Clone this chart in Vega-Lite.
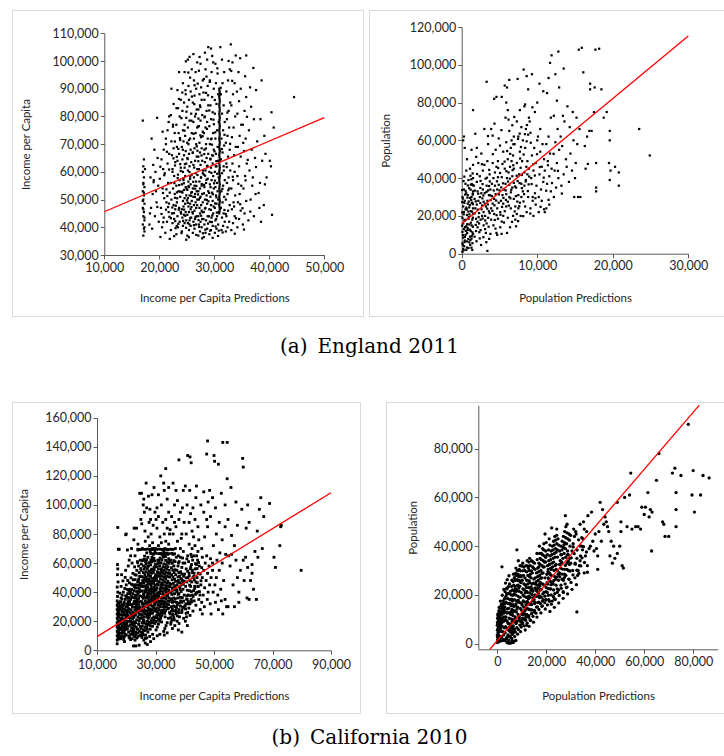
{
"$schema":"https://vega.github.io/schema/vega-lite/v6.json",
"background":"white",
"padding":{"left":11,"top":9,"right":0,"bottom":0},
"spacing":44,
"config":{
"view":{"stroke":"#d9d9d9","strokeWidth":1},
"axis":{"grid":false,"domainColor":"#595959","tickColor":"#595959","tickSize":4,"labelFont":"Lato","labelFontSize":12.5,"labelColor":"#262626","titleFont":"Lato","titleFontSize":11.4,"titleFontWeight":"normal","titleColor":"#262626","labelPadding":2,"labelFlush":false,"labelOverlap":false,"format":",d"}
},
"datasets":{
"tl":[{"x":17100,"y":37000},{"x":17200,"y":39500},{"x":17000,"y":41000},{"x":17300,"y":42500},{"x":17100,"y":44000},{"x":17200,"y":45500},{"x":17000,"y":47000},{"x":17300,"y":48500},{"x":17100,"y":50000},{"x":17200,"y":51500},{"x":17000,"y":53000},{"x":17300,"y":54500},{"x":17100,"y":56000},{"x":17200,"y":58000},{"x":17000,"y":60000},{"x":17100,"y":62000},{"x":17200,"y":64500},{"x":17000,"y":78500},{"x":17300,"y":40000},{"x":17100,"y":46500},{"x":17200,"y":52500},{"x":17300,"y":43500},{"x":17000,"y":49500},{"x":17100,"y":55500},{"x":17400,"y":61000},{"x":17300,"y":38500},
{"x":18200,"y":41000},{"x":18500,"y":47000},{"x":18800,"y":52000},{"x":18400,"y":58000},{"x":18900,"y":62500},{"x":18600,"y":72000},{"x":19200,"y":44000},{"x":19500,"y":49000},{"x":19800,"y":55000},{"x":19300,"y":60000},{"x":19700,"y":65000},{"x":19100,"y":68000},{"x":19600,"y":79500},{"x":18300,"y":45000},{"x":19900,"y":42000},{"x":19400,"y":53000},{"x":18700,"y":39500},{"x":19000,"y":57000},
{"x":20200,"y":36500},{"x":20500,"y":40000},{"x":20800,"y":43500},{"x":20300,"y":47000},{"x":20900,"y":50500},{"x":20600,"y":54000},{"x":20100,"y":57500},{"x":20700,"y":61000},{"x":20400,"y":64500},{"x":20800,"y":68000},{"x":21200,"y":72000},{"x":21500,"y":75000},{"x":21800,"y":80000},{"x":21100,"y":38000},{"x":21400,"y":42000},{"x":21700,"y":45500},{"x":21300,"y":49000},{"x":21900,"y":52500},{"x":21600,"y":56000},{"x":21000,"y":59500},{"x":21500,"y":63000},{"x":21800,"y":66500},{"x":21200,"y":70000},{"x":20600,"y":74500},{"x":21700,"y":78000},{"x":21900,"y":35800},{"x":20400,"y":44800},{"x":21300,"y":53700},{"x":20900,"y":58800},{"x":21600,"y":47300},
{"x":22100,"y":39000},{"x":22400,"y":41500},{"x":22700,"y":43000},{"x":22300,"y":45000},{"x":22900,"y":46500},{"x":22600,"y":48000},{"x":22200,"y":50000},{"x":22800,"y":52000},{"x":22500,"y":54000},{"x":22100,"y":56000},{"x":22700,"y":58500},{"x":22400,"y":61000},{"x":22900,"y":63500},{"x":22300,"y":66000},{"x":22600,"y":68500},{"x":22200,"y":71000},{"x":22800,"y":74000},{"x":22500,"y":77000},{"x":22100,"y":80500},{"x":22600,"y":84500},{"x":22200,"y":90000},{"x":23100,"y":37500},{"x":23400,"y":40000},{"x":23700,"y":42000},{"x":23300,"y":44000},{"x":23900,"y":45500},{"x":23600,"y":47000},{"x":23200,"y":49000},{"x":23800,"y":51000},{"x":23500,"y":53000},{"x":23100,"y":55000},{"x":23700,"y":57000},{"x":23400,"y":59000},{"x":23900,"y":61500},{"x":23300,"y":64000},{"x":23600,"y":66500},{"x":23200,"y":69000},{"x":23800,"y":71500},{"x":23500,"y":74000},{"x":23100,"y":77000},{"x":23700,"y":80000},{"x":23400,"y":83000},{"x":23900,"y":86000},{"x":23300,"y":89500},{"x":23600,"y":96000},{"x":22900,"y":42200},{"x":23000,"y":47800},{"x":23200,"y":52600},{"x":22700,"y":36800},{"x":23800,"y":62800},{"x":22400,"y":60000},
{"x":24100,"y":38500},{"x":24300,"y":40500},{"x":24600,"y":41500},{"x":24900,"y":42500},{"x":24200,"y":43500},{"x":24500,"y":44500},{"x":24800,"y":45500},{"x":24100,"y":46500},{"x":24400,"y":47500},{"x":24700,"y":48500},{"x":24300,"y":49500},{"x":24600,"y":50500},{"x":24900,"y":51500},{"x":24200,"y":52500},{"x":24500,"y":53500},{"x":24800,"y":54500},{"x":24100,"y":55500},{"x":24400,"y":57000},{"x":24700,"y":58500},{"x":24300,"y":60000},{"x":24600,"y":61500},{"x":24900,"y":63000},{"x":24200,"y":64500},{"x":24500,"y":66000},{"x":24800,"y":67500},{"x":24100,"y":69000},{"x":24400,"y":71000},{"x":24700,"y":73000},{"x":24300,"y":75000},{"x":24600,"y":77000},{"x":24900,"y":79500},{"x":24200,"y":82000},{"x":24500,"y":85000},{"x":24800,"y":88000},{"x":24300,"y":92000},{"x":24600,"y":96000},{"x":24900,"y":35500},
{"x":25100,"y":37000},{"x":25400,"y":39000},{"x":25700,"y":40500},{"x":25200,"y":41500},{"x":25500,"y":42500},{"x":25800,"y":43500},{"x":25100,"y":44500},{"x":25400,"y":45500},{"x":25700,"y":46500},{"x":25300,"y":47500},{"x":25600,"y":48500},{"x":25900,"y":49500},{"x":25200,"y":50500},{"x":25500,"y":51500},{"x":25800,"y":52500},{"x":25100,"y":53500},{"x":25400,"y":54500},{"x":25700,"y":55500},{"x":25300,"y":56500},{"x":25600,"y":57500},{"x":25900,"y":59000},{"x":25200,"y":60500},{"x":25500,"y":62000},{"x":25800,"y":63500},{"x":25100,"y":65000},{"x":25400,"y":66500},{"x":25700,"y":68000},{"x":25300,"y":70000},{"x":25600,"y":72000},{"x":25900,"y":74000},{"x":25200,"y":76000},{"x":25500,"y":78500},{"x":25800,"y":81000},{"x":25100,"y":83500},{"x":25400,"y":86000},{"x":25700,"y":89000},{"x":25300,"y":91000},{"x":25600,"y":94000},{"x":25900,"y":97000},{"x":25200,"y":100500},{"x":25500,"y":101500},
{"x":26100,"y":38000},{"x":26400,"y":39500},{"x":26700,"y":41000},{"x":26200,"y":42000},{"x":26500,"y":43000},{"x":26800,"y":44000},{"x":26100,"y":45000},{"x":26400,"y":46000},{"x":26700,"y":47000},{"x":26300,"y":48000},{"x":26600,"y":49000},{"x":26900,"y":50000},{"x":26200,"y":51000},{"x":26500,"y":52000},{"x":26800,"y":53000},{"x":26100,"y":54000},{"x":26400,"y":55000},{"x":26700,"y":56500},{"x":26300,"y":58000},{"x":26600,"y":59500},{"x":26900,"y":61000},{"x":26200,"y":62500},{"x":26500,"y":64000},{"x":26800,"y":65500},{"x":26100,"y":67000},{"x":26400,"y":68500},{"x":26700,"y":70000},{"x":26300,"y":72000},{"x":26600,"y":74000},{"x":26900,"y":76000},{"x":26200,"y":78000},{"x":26500,"y":80000},{"x":26800,"y":82500},{"x":26100,"y":85000},{"x":26400,"y":87500},{"x":26700,"y":90000},{"x":26300,"y":93000},{"x":26600,"y":96000},{"x":26900,"y":99500},{"x":26200,"y":102500},
{"x":27100,"y":37000},{"x":27400,"y":38500},{"x":27700,"y":40000},{"x":27200,"y":41000},{"x":27500,"y":42000},{"x":27800,"y":43000},{"x":27100,"y":44000},{"x":27400,"y":45000},{"x":27700,"y":46000},{"x":27300,"y":47000},{"x":27600,"y":48000},{"x":27900,"y":49000},{"x":27200,"y":50000},{"x":27500,"y":51000},{"x":27800,"y":52000},{"x":27100,"y":53000},{"x":27400,"y":54000},{"x":27700,"y":55000},{"x":27300,"y":56500},{"x":27600,"y":58000},{"x":27900,"y":59500},{"x":27200,"y":61000},{"x":27500,"y":62500},{"x":27800,"y":64000},{"x":27100,"y":65500},{"x":27400,"y":67000},{"x":27700,"y":68500},{"x":27300,"y":70500},{"x":27600,"y":72500},{"x":27900,"y":74500},{"x":27200,"y":76500},{"x":27500,"y":78500},{"x":27800,"y":80500},{"x":27100,"y":82500},{"x":27400,"y":84000},{"x":27700,"y":86000},{"x":27300,"y":88000},{"x":27600,"y":90500},{"x":27900,"y":93000},{"x":27200,"y":96500},{"x":27500,"y":99000},{"x":27800,"y":36000},
{"x":28100,"y":36500},{"x":28400,"y":38000},{"x":28700,"y":39500},{"x":28200,"y":41000},{"x":28500,"y":42500},{"x":28800,"y":44000},{"x":28100,"y":45500},{"x":28400,"y":47000},{"x":28700,"y":48500},{"x":28300,"y":50000},{"x":28600,"y":51500},{"x":28900,"y":53000},{"x":28200,"y":54500},{"x":28500,"y":56000},{"x":28800,"y":57500},{"x":28100,"y":59000},{"x":28400,"y":60500},{"x":28700,"y":62000},{"x":28300,"y":63500},{"x":28600,"y":65000},{"x":28900,"y":66500},{"x":28200,"y":68000},{"x":28500,"y":70000},{"x":28800,"y":72000},{"x":28100,"y":74000},{"x":28400,"y":76000},{"x":28700,"y":78000},{"x":28300,"y":80000},{"x":28600,"y":82000},{"x":28900,"y":84000},{"x":28200,"y":86000},{"x":28500,"y":88500},{"x":28800,"y":91000},{"x":28100,"y":93500},{"x":28400,"y":97000},{"x":28700,"y":100500},{"x":28300,"y":103000},{"x":28900,"y":105000},
{"x":29100,"y":37500},{"x":29400,"y":39000},{"x":29700,"y":40500},{"x":29200,"y":42000},{"x":29500,"y":43500},{"x":29800,"y":45000},{"x":29100,"y":46500},{"x":29400,"y":48000},{"x":29700,"y":49500},{"x":29300,"y":51000},{"x":29600,"y":52500},{"x":29900,"y":54000},{"x":29200,"y":55500},{"x":29500,"y":57000},{"x":29800,"y":58500},{"x":29100,"y":60000},{"x":29400,"y":61500},{"x":29700,"y":63000},{"x":29300,"y":64500},{"x":29600,"y":66000},{"x":29900,"y":68000},{"x":29200,"y":70000},{"x":29500,"y":72000},{"x":29800,"y":74000},{"x":29100,"y":76500},{"x":29400,"y":79000},{"x":29700,"y":81500},{"x":29300,"y":84000},{"x":29600,"y":87000},{"x":29900,"y":90000},{"x":29200,"y":93000},{"x":29500,"y":96000},{"x":29800,"y":99500},{"x":29400,"y":104500},{"x":29700,"y":36200},
{"x":30900,"y":45000},{"x":31000,"y":46500},{"x":30900,"y":48000},{"x":31000,"y":49500},{"x":30900,"y":51000},{"x":31000,"y":52500},{"x":30900,"y":54000},{"x":31000,"y":55500},{"x":30900,"y":57000},{"x":31000,"y":58500},{"x":30900,"y":60000},{"x":31000,"y":61500},{"x":30900,"y":63000},{"x":31000,"y":64500},{"x":30900,"y":66000},{"x":31000,"y":67500},{"x":30900,"y":69000},{"x":31000,"y":70500},{"x":30900,"y":72000},{"x":31000,"y":73500},{"x":30900,"y":75000},{"x":31000,"y":76500},{"x":30900,"y":78000},{"x":31000,"y":79500},{"x":30900,"y":81000},{"x":31000,"y":82500},{"x":30900,"y":84000},{"x":31000,"y":85500},{"x":30900,"y":87000},{"x":31000,"y":88500},{"x":30900,"y":90000},
{"x":30950,"y":45750},{"x":30950,"y":47250},{"x":30950,"y":48750},{"x":30950,"y":50250},{"x":30950,"y":51750},{"x":30950,"y":53250},{"x":30950,"y":54750},{"x":30950,"y":56250},{"x":30950,"y":57750},{"x":30950,"y":59250},{"x":30950,"y":60750},{"x":30950,"y":62250},{"x":30950,"y":63750},{"x":30950,"y":65250},{"x":30950,"y":66750},{"x":30950,"y":68250},{"x":30950,"y":69750},{"x":30950,"y":71250},{"x":30950,"y":72750},{"x":30950,"y":74250},{"x":30950,"y":75750},{"x":30950,"y":77250},{"x":30950,"y":78750},{"x":30950,"y":80250},{"x":30950,"y":81750},{"x":30950,"y":83250},{"x":30950,"y":84750},{"x":30950,"y":86250},{"x":30950,"y":87750},{"x":30950,"y":89250},
{"x":30100,"y":38000},{"x":30400,"y":39500},{"x":30700,"y":41000},{"x":30200,"y":42500},{"x":30500,"y":44000},{"x":30800,"y":45500},{"x":30100,"y":47000},{"x":30400,"y":48500},{"x":30700,"y":50000},{"x":30300,"y":51500},{"x":30600,"y":53000},{"x":30200,"y":54500},{"x":30500,"y":56000},{"x":30800,"y":58000},{"x":30100,"y":60000},{"x":30400,"y":62000},{"x":30700,"y":64000},{"x":30300,"y":66500},{"x":30600,"y":69000},{"x":30200,"y":72000},{"x":30500,"y":75000},{"x":30800,"y":78000},{"x":30100,"y":81000},{"x":30400,"y":84500},{"x":30700,"y":88000},{"x":30300,"y":92000},{"x":30600,"y":95500},{"x":30200,"y":99000},{"x":30800,"y":38800},
{"x":31300,"y":39000},{"x":31600,"y":40500},{"x":31900,"y":42000},{"x":31400,"y":43500},{"x":31700,"y":45000},{"x":31200,"y":47000},{"x":31500,"y":49000},{"x":31800,"y":51000},{"x":31300,"y":53000},{"x":31600,"y":55000},{"x":31900,"y":57000},{"x":31400,"y":59500},{"x":31700,"y":62000},{"x":31200,"y":64500},{"x":31500,"y":67000},{"x":31800,"y":69500},{"x":31300,"y":72000},{"x":31600,"y":75000},{"x":31900,"y":78000},{"x":31400,"y":81000},{"x":31700,"y":84000},{"x":31200,"y":88000},{"x":31500,"y":92000},{"x":31800,"y":96000},{"x":31100,"y":105000},{"x":31400,"y":100500},
{"x":32100,"y":38500},{"x":32400,"y":40000},{"x":32700,"y":42000},{"x":32200,"y":44000},{"x":32500,"y":46000},{"x":32800,"y":48000},{"x":32100,"y":50000},{"x":32400,"y":52000},{"x":32700,"y":54000},{"x":32300,"y":56000},{"x":32600,"y":58000},{"x":32900,"y":60500},{"x":32200,"y":63000},{"x":32500,"y":65500},{"x":32800,"y":68000},{"x":32100,"y":70500},{"x":32400,"y":73000},{"x":32700,"y":76000},{"x":32300,"y":79000},{"x":32600,"y":82000},{"x":32900,"y":85000},{"x":32200,"y":89000},{"x":32500,"y":93000},{"x":32800,"y":97000},{"x":33000,"y":106000},{"x":32600,"y":100000},
{"x":33100,"y":39000},{"x":33400,"y":41500},{"x":33700,"y":44000},{"x":33200,"y":46500},{"x":33500,"y":49000},{"x":33800,"y":51500},{"x":33100,"y":54000},{"x":33400,"y":57000},{"x":33700,"y":60000},{"x":33300,"y":63000},{"x":33600,"y":66000},{"x":33900,"y":69000},{"x":33200,"y":72500},{"x":33500,"y":76000},{"x":33800,"y":80000},{"x":33100,"y":84000},{"x":33400,"y":88000},{"x":33700,"y":92000},{"x":33300,"y":99500},{"x":33900,"y":102000},{"x":33600,"y":47500},
{"x":34200,"y":40000},{"x":34500,"y":43000},{"x":34800,"y":46000},{"x":34300,"y":49000},{"x":34600,"y":52000},{"x":34900,"y":55000},{"x":34200,"y":58500},{"x":34500,"y":62000},{"x":34800,"y":65500},{"x":34300,"y":69000},{"x":34600,"y":73000},{"x":34900,"y":77000},{"x":34200,"y":81000},{"x":34500,"y":85500},{"x":34800,"y":90000},{"x":34400,"y":96000},{"x":34700,"y":101000},{"x":35200,"y":41000},{"x":35500,"y":45000},{"x":35800,"y":49500},{"x":35300,"y":54000},{"x":35600,"y":58500},{"x":35900,"y":63000},{"x":35400,"y":67500},{"x":35700,"y":72000},{"x":35200,"y":77000},{"x":35500,"y":82000},{"x":35800,"y":87000},{"x":35600,"y":94500},{"x":35800,"y":102000},{"x":35400,"y":39200},
{"x":36200,"y":42500},{"x":36600,"y":50000},{"x":36900,"y":55000},{"x":36400,"y":60500},{"x":36800,"y":68000},{"x":36300,"y":75000},{"x":36700,"y":83500},{"x":36500,"y":90500},{"x":37200,"y":44000},{"x":37500,"y":52000},{"x":37000,"y":58000},{"x":37400,"y":65000},{"x":37800,"y":71000},{"x":37200,"y":79000},{"x":37100,"y":97500},{"x":37600,"y":89500},{"x":38200,"y":47000},{"x":38500,"y":42000},{"x":38300,"y":56000},{"x":38700,"y":64000},{"x":38400,"y":79000},{"x":38600,"y":93000},{"x":39000,"y":48000},{"x":39200,"y":55500},{"x":39300,"y":66500},{"x":39100,"y":73000},{"x":39500,"y":58000},{"x":40300,"y":62000},{"x":40500,"y":44500},{"x":40400,"y":81500},{"x":40800,"y":76000},{"x":40100,"y":64000},{"x":44500,"y":87000},
{"x":23450,"y":41230},{"x":24870,"y":39810},{"x":25630,"y":43370},{"x":26290,"y":40760},{"x":27140,"y":42590},{"x":28370,"y":39140},{"x":29560,"y":41880},{"x":30230,"y":40270},{"x":23980,"y":44910},{"x":24520,"y":46380},{"x":25190,"y":48820},{"x":26030,"y":45470},{"x":26880,"y":47960},{"x":27610,"y":44180},{"x":28290,"y":46730},{"x":29040,"y":43960},{"x":29880,"y":47510},{"x":30470,"y":45290},{"x":23260,"y":50470},{"x":24130,"y":52890},{"x":25040,"y":49720},{"x":25770,"y":51360},{"x":26520,"y":53940},{"x":27380,"y":50610},{"x":28110,"y":52270},{"x":28940,"y":49380},{"x":29730,"y":51940},{"x":30380,"y":50790},{"x":23620,"y":55230},{"x":24390,"y":57680},{"x":25310,"y":54890},{"x":26170,"y":56420},{"x":26940,"y":58870},{"x":27730,"y":55610},{"x":28560,"y":57130},{"x":29320,"y":54470},{"x":30120,"y":56840},{"x":23890,"y":60320},{"x":24660,"y":62780},{"x":25480,"y":59940},{"x":26340,"y":61560},{"x":27090,"y":63840},{"x":27960,"y":60470},{"x":28740,"y":62210},{"x":29470,"y":59630},{"x":30260,"y":61980},{"x":23180,"y":65430},{"x":24280,"y":67980},{"x":25160,"y":64620},{"x":26080,"y":66870},{"x":26810,"y":69210},{"x":27670,"y":65930},{"x":28480,"y":68440},{"x":29280,"y":64760},{"x":30040,"y":67390},{"x":22860,"y":62310},{"x":23750,"y":72180},{"x":24590,"y":74860},{"x":25390,"y":71470},{"x":26230,"y":73720},{"x":27040,"y":76340},{"x":27880,"y":72860},{"x":28660,"y":75510},{"x":29390,"y":71790},{"x":30170,"y":74260},{"x":24010,"y":79380},{"x":24940,"y":81720},{"x":25850,"y":78460},{"x":26650,"y":80930},{"x":27460,"y":83380},{"x":28210,"y":79670},{"x":29080,"y":82150},{"x":29840,"y":78840},{"x":23570,"y":86320},{"x":24760,"y":89460},{"x":25930,"y":87180},{"x":26980,"y":91840},{"x":28030,"y":88620},{"x":29170,"y":92470},{"x":30090,"y":85930},{"x":22370,"y":47160},{"x":22740,"y":55930},{"x":22580,"y":64870},{"x":21840,"y":43780},{"x":21460,"y":51270},{"x":21770,"y":60840},{"x":32080,"y":44790},{"x":32540,"y":53360},{"x":32260,"y":61740},{"x":32870,"y":70120},{"x":33360,"y":58230},{"x":33940,"y":43260},{"x":34370,"y":55680},{"x":34710,"y":48320},{"x":31520,"y":38140},{"x":33720,"y":37680},{"x":35120,"y":46870},{"x":35690,"y":56930},{"x":25380,"y":36410},{"x":26720,"y":37260},{"x":29260,"y":38770},{"x":24040,"y":37930},{"x":27930,"y":37840},{"x":30670,"y":36880},{"x":22960,"y":39670},{"x":31840,"y":46240},{"x":31470,"y":53860},{"x":31720,"y":60470},{"x":31380,"y":68230},{"x":31850,"y":73380},{"x":32380,"y":81420},{"x":31160,"y":90350},{"x":30560,"y":97360},{"x":33260,"y":92840},{"x":27320,"y":101460},{"x":28580,"y":94370},{"x":26410,"y":91260},{"x":25270,"y":95840},{"x":24180,"y":88620},{"x":23130,"y":82970},{"x":22480,"y":76320},{"x":21380,"y":67240},{"x":20680,"y":52370},{"x":20190,"y":61860},{"x":19640,"y":47330},{"x":18960,"y":56270},{"x":35260,"y":70480},{"x":36080,"y":64320},{"x":36540,"y":45670},{"x":37580,"y":61740},{"x":38060,"y":52380},{"x":35940,"y":79860},{"x":34120,"y":88970},{"x":33080,"y":96410},{"x":29620,"y":101830},{"x":24830,"y":99870},{"x":26370,"y":84430},{"x":28860,"y":87630},{"x":27120,"y":79220},{"x":29930,"y":77180},{"x":22840,"y":70960},
{"x":23160,"y":40460},{"x":24340,"y":42310},{"x":25470,"y":41070},{"x":26580,"y":43730},{"x":27260,"y":40140},{"x":28030,"y":42940},{"x":28860,"y":41320},{"x":29640,"y":44270},{"x":30340,"y":42960},{"x":23540,"y":46360},{"x":24720,"y":44160},{"x":25840,"y":47290},{"x":26470,"y":50930},{"x":27860,"y":45470},{"x":28640,"y":49870},{"x":29380,"y":46280},{"x":30160,"y":48620},{"x":23760,"y":52860},{"x":24960,"y":53960},{"x":25940,"y":52660},{"x":27040,"y":51860},{"x":28140,"y":55310},{"x":29060,"y":52380},{"x":29960,"y":55860},{"x":24460,"y":55860},{"x":26740,"y":54930},{"x":27570,"y":57930},{"x":23340,"y":57760},{"x":25620,"y":58340},{"x":28330,"y":58630},{"x":22640,"y":45120},{"x":22860,"y":50630},{"x":22120,"y":43260},{"x":21760,"y":48560},{"x":20720,"y":41820},{"x":21220,"y":46360},{"x":30530,"y":59320},{"x":30370,"y":63870},{"x":29780,"y":65840},{"x":23460,"y":68260},{"x":26930,"y":67640},{"x":28170,"y":66420},{"x":25080,"y":70530},{"x":27460,"y":73160},{"x":29570,"y":69820}],
"tr":[{"x":100,"y":1000},{"x":200,"y":2500},{"x":300,"y":4000},{"x":100,"y":5500},{"x":400,"y":7000},{"x":200,"y":8500},{"x":500,"y":10000},{"x":100,"y":11500},{"x":300,"y":13000},{"x":600,"y":14500},{"x":200,"y":16000},{"x":400,"y":17500},{"x":100,"y":19000},{"x":700,"y":20500},{"x":300,"y":22000},{"x":500,"y":23500},{"x":200,"y":25000},{"x":800,"y":26500},{"x":400,"y":28000},{"x":100,"y":30000},{"x":600,"y":32000},{"x":300,"y":34000},{"x":900,"y":3000},{"x":1000,"y":6000},{"x":1100,"y":9000},{"x":1200,"y":12000},{"x":1300,"y":15000},{"x":1400,"y":18000},{"x":1500,"y":21000},{"x":1500,"y":24000},{"x":1400,"y":27000},{"x":1300,"y":30000},{"x":1500,"y":33000},{"x":1200,"y":36500},{"x":1500,"y":40000},{"x":1450,"y":42500},{"x":800,"y":12500},{"x":900,"y":18500},{"x":700,"y":6500},{"x":1000,"y":24500},{"x":1100,"y":29500},{"x":600,"y":2000},{"x":1300,"y":8000},{"x":1000,"y":15500},{"x":500,"y":37000},{"x":300,"y":62000},{"x":200,"y":60000},{"x":400,"y":56000},{"x":700,"y":50000},{"x":1500,"y":76000},{"x":1300,"y":55000},{"x":1100,"y":45000},{"x":900,"y":39000},{"x":1500,"y":47000},{"x":1400,"y":2000},{"x":1500,"y":10500},{"x":1200,"y":22500},{"x":800,"y":31000},{"x":600,"y":44000},
{"x":1700,"y":9000},{"x":1900,"y":12000},{"x":2100,"y":14000},{"x":2300,"y":16000},{"x":2500,"y":18000},{"x":2700,"y":20000},{"x":2900,"y":22000},{"x":1800,"y":24000},{"x":2000,"y":26000},{"x":2200,"y":28000},{"x":2400,"y":30000},{"x":2600,"y":32000},{"x":2800,"y":34000},{"x":1600,"y":36000},{"x":2000,"y":38000},{"x":2400,"y":41000},{"x":2800,"y":44000},{"x":2200,"y":48000},{"x":2600,"y":53000},{"x":1900,"y":18500},{"x":2300,"y":21500},{"x":2700,"y":25500},{"x":2100,"y":33000},{"x":2500,"y":12500},{"x":2900,"y":27500},{"x":1700,"y":29000},{"x":2900,"y":15000},{"x":2500,"y":38500},{"x":3000,"y":47000},{"x":2000,"y":56000},{"x":1800,"y":63500},{"x":3300,"y":91000},{"x":3400,"y":1500},{"x":3200,"y":11000},{"x":3000,"y":66000},
{"x":3100,"y":13000},{"x":3300,"y":16000},{"x":3500,"y":19000},{"x":3700,"y":21500},{"x":3900,"y":24000},{"x":4100,"y":26500},{"x":4300,"y":29000},{"x":4500,"y":31500},{"x":4700,"y":34000},{"x":4900,"y":36500},{"x":3200,"y":25000},{"x":3400,"y":28000},{"x":3600,"y":31000},{"x":3800,"y":34000},{"x":4000,"y":37000},{"x":4200,"y":40000},{"x":4400,"y":43000},{"x":4600,"y":46000},{"x":4800,"y":49000},{"x":3300,"y":36000},{"x":3700,"y":42000},{"x":4100,"y":48000},{"x":4500,"y":55000},{"x":4900,"y":61000},{"x":3500,"y":58000},{"x":3900,"y":66000},{"x":4300,"y":82000},{"x":4600,"y":83000},{"x":3100,"y":20000},{"x":3500,"y":33500},{"x":3900,"y":18000},{"x":4300,"y":21000},{"x":4700,"y":24000},{"x":4900,"y":27000},{"x":4200,"y":15000},{"x":4600,"y":11000},{"x":4800,"y":18500},{"x":4000,"y":30500},{"x":3600,"y":22500},{"x":4400,"y":36000},{"x":3800,"y":10500},{"x":4800,"y":40500},{"x":4100,"y":62500},{"x":3400,"y":49000},{"x":4700,"y":10000},
{"x":5100,"y":14000},{"x":5300,"y":17000},{"x":5500,"y":20000},{"x":5700,"y":22500},{"x":5900,"y":25000},{"x":6100,"y":27500},{"x":6300,"y":30000},{"x":6500,"y":32500},{"x":6700,"y":35000},{"x":6900,"y":37500},{"x":5200,"y":28000},{"x":5400,"y":31000},{"x":5600,"y":34000},{"x":5800,"y":37000},{"x":6000,"y":40000},{"x":6200,"y":43000},{"x":6400,"y":46000},{"x":6600,"y":49000},{"x":6800,"y":52000},{"x":5300,"y":40500},{"x":5700,"y":45000},{"x":6100,"y":50000},{"x":6500,"y":56000},{"x":6900,"y":62000},{"x":5500,"y":54000},{"x":5900,"y":59000},{"x":6300,"y":65000},{"x":6700,"y":68000},{"x":5100,"y":22000},{"x":5500,"y":26500},{"x":5900,"y":31500},{"x":6300,"y":36500},{"x":6700,"y":41000},{"x":6900,"y":45000},{"x":6100,"y":19000},{"x":6500,"y":24000},{"x":6900,"y":29000},{"x":5400,"y":47500},{"x":5800,"y":72000},{"x":6200,"y":71000},{"x":6600,"y":60000},{"x":6000,"y":88000},{"x":6300,"y":92000},{"x":5700,"y":89000},{"x":5900,"y":80000},{"x":6100,"y":76000},{"x":5300,"y":83000},{"x":5600,"y":16500},{"x":6800,"y":20000},{"x":6400,"y":14000},{"x":5000,"y":33500},{"x":6000,"y":11000},
{"x":7100,"y":18000},{"x":7300,"y":21000},{"x":7500,"y":24000},{"x":7700,"y":27000},{"x":7900,"y":30000},{"x":8100,"y":33000},{"x":8300,"y":36000},{"x":8500,"y":39000},{"x":8700,"y":42000},{"x":8900,"y":45000},{"x":7200,"y":35000},{"x":7400,"y":38500},{"x":7600,"y":42000},{"x":7800,"y":45500},{"x":8000,"y":49000},{"x":8200,"y":52500},{"x":8400,"y":56000},{"x":8600,"y":59500},{"x":8800,"y":63000},{"x":7300,"y":48000},{"x":7700,"y":54000},{"x":8100,"y":60000},{"x":8500,"y":66000},{"x":8900,"y":72000},{"x":7500,"y":62000},{"x":7900,"y":67000},{"x":8300,"y":78000},{"x":7100,"y":25000},{"x":7500,"y":31000},{"x":7900,"y":37000},{"x":8300,"y":43000},{"x":8700,"y":49000},{"x":7200,"y":14500},{"x":7800,"y":20000},{"x":8400,"y":25000},{"x":8800,"y":30000},{"x":8600,"y":22000},{"x":7000,"y":58000},{"x":7400,"y":92500},{"x":8200,"y":97500},{"x":8600,"y":94000},{"x":8800,"y":87000},{"x":8400,"y":79000},{"x":7700,"y":76000},{"x":7300,"y":70000},
{"x":9100,"y":24000},{"x":9400,"y":28000},{"x":9700,"y":32000},{"x":9900,"y":36000},{"x":9200,"y":40000},{"x":9500,"y":44000},{"x":9800,"y":48000},{"x":9300,"y":52000},{"x":9600,"y":56000},{"x":10000,"y":60000},{"x":9100,"y":64000},{"x":9400,"y":30000},{"x":9800,"y":26000},{"x":10200,"y":30000},{"x":10500,"y":34000},{"x":10800,"y":38000},{"x":10300,"y":42000},{"x":10600,"y":46000},{"x":10900,"y":50000},{"x":10400,"y":54000},{"x":10700,"y":58000},{"x":10100,"y":62000},{"x":10600,"y":28000},{"x":10900,"y":23500},{"x":9500,"y":20000},{"x":10200,"y":22000},{"x":9700,"y":75000},{"x":10000,"y":80000},{"x":10300,"y":90000},{"x":9300,"y":95000},{"x":10800,"y":86000},{"x":9000,"y":70000},{"x":10400,"y":66000},{"x":11000,"y":44000},
{"x":11200,"y":24000},{"x":11500,"y":28500},{"x":11800,"y":33000},{"x":11300,"y":37000},{"x":11600,"y":41000},{"x":11900,"y":45000},{"x":11400,"y":49000},{"x":11700,"y":53000},{"x":11200,"y":58000},{"x":11500,"y":62000},{"x":11800,"y":72000},{"x":11300,"y":85000},{"x":11700,"y":101000},{"x":11900,"y":105000},{"x":11500,"y":93000},{"x":12200,"y":30000},{"x":12500,"y":35000},{"x":12800,"y":40000},{"x":12300,"y":44000},{"x":12600,"y":48000},{"x":12900,"y":55000},{"x":12400,"y":59000},{"x":12700,"y":66000},{"x":12200,"y":73000},{"x":12600,"y":81000},{"x":12900,"y":88000},{"x":12400,"y":95000},{"x":12800,"y":107000},{"x":13200,"y":36000},{"x":13500,"y":42000},{"x":13800,"y":50000},{"x":13300,"y":57000},{"x":13600,"y":70000},{"x":13400,"y":73000},{"x":13100,"y":62000},{"x":13900,"y":46000},{"x":13500,"y":98000},{"x":11000,"y":22000},{"x":11600,"y":26000},
{"x":14200,"y":38000},{"x":14600,"y":44000},{"x":14900,"y":30000},{"x":14400,"y":53000},{"x":14800,"y":60000},{"x":14300,"y":67000},{"x":14700,"y":75000},{"x":15100,"y":48000},{"x":15400,"y":30000},{"x":15700,"y":30000},{"x":15300,"y":58000},{"x":15600,"y":66000},{"x":15200,"y":72000},{"x":15500,"y":108000},{"x":15900,"y":109000},{"x":16100,"y":96000},{"x":16400,"y":45000},{"x":16700,"y":47500},{"x":16300,"y":57000},{"x":16600,"y":62000},{"x":16900,"y":65000},{"x":17200,"y":65000},{"x":17500,"y":75000},{"x":17800,"y":48000},{"x":17800,"y":35000},{"x":17800,"y":33000},{"x":17600,"y":88000},{"x":17000,"y":90000},{"x":17000,"y":87000},{"x":17700,"y":108000},{"x":18200,"y":108500},{"x":18500,"y":87000},{"x":18800,"y":72000},{"x":19200,"y":75000},{"x":19500,"y":48000},{"x":19600,"y":65000},{"x":19600,"y":60000},{"x":19600,"y":39000},{"x":19700,"y":44000},{"x":20300,"y":46000},{"x":20800,"y":43000},{"x":20800,"y":36000},{"x":23500,"y":66000},{"x":24900,"y":52000},{"x":14000,"y":78000},{"x":15000,"y":40000},
{"x":250,"y":1830},{"x":680,"y":3270},{"x":1120,"y":4680},{"x":380,"y":6140},{"x":870,"y":7720},{"x":1340,"y":9460},{"x":160,"y":9830},{"x":720,"y":10870},{"x":1060,"y":12760},{"x":420,"y":14080},{"x":1210,"y":16430},{"x":560,"y":17920},{"x":940,"y":19360},{"x":260,"y":20840},{"x":1380,"y":22270},{"x":680,"y":23460},{"x":1070,"y":25770},{"x":340,"y":26930},{"x":1260,"y":28410},{"x":760,"y":29680},{"x":1460,"y":31270},{"x":520,"y":33180},{"x":980,"y":34670},{"x":1340,"y":36880},{"x":240,"y":38420},{"x":1160,"y":41270},{"x":780,"y":13640},{"x":1420,"y":5540},{"x":50,"y":14860},{"x":60,"y":21870},{"x":70,"y":27360},{"x":1480,"y":14270},{"x":1480,"y":19060},{"x":1480,"y":26180},{"x":1480,"y":31860},{"x":1480,"y":36270},
{"x":1860,"y":15240},{"x":2240,"y":19370},{"x":2630,"y":23480},{"x":3070,"y":26390},{"x":2180,"y":31760},{"x":2760,"y":36840},{"x":3160,"y":39720},{"x":3640,"y":44380},{"x":1720,"y":21380},{"x":2460,"y":26810},{"x":3380,"y":23870},{"x":3820,"y":28360},{"x":4240,"y":33480},{"x":4670,"y":38320},{"x":5080,"y":42740},{"x":5470,"y":37290},{"x":5920,"y":43680},{"x":6380,"y":39740},{"x":6830,"y":46830},{"x":7280,"y":41260},{"x":7740,"y":50370},{"x":3560,"y":14260},{"x":4380,"y":17840},{"x":5140,"y":20630},{"x":5860,"y":28470},{"x":6560,"y":33860},{"x":7180,"y":30480},{"x":7960,"y":34720},{"x":8470,"y":38260},{"x":8940,"y":40830},{"x":9480,"y":47360},{"x":9970,"y":52680},{"x":2870,"y":30840},{"x":3290,"y":32760},{"x":4560,"y":28160},{"x":5340,"y":24770},{"x":6240,"y":25460},{"x":7020,"y":22370},{"x":7620,"y":25140},{"x":8180,"y":27640},{"x":8760,"y":33140},{"x":9260,"y":36840},{"x":9680,"y":41370},{"x":10330,"y":45870},{"x":10860,"y":40260},{"x":11420,"y":46830},{"x":12160,"y":52860},{"x":4120,"y":52680},{"x":5070,"y":57240},{"x":6020,"y":54360},{"x":6840,"y":57920},{"x":7460,"y":60740},{"x":8370,"y":63280},{"x":9140,"y":58740},{"x":3720,"y":38260},{"x":4830,"y":45370},{"x":5680,"y":48740},{"x":6420,"y":52830},{"x":7840,"y":56470},{"x":2040,"y":42160},{"x":2680,"y":47380},{"x":1920,"y":51260},{"x":3480,"y":62270},{"x":4340,"y":68840},{"x":5260,"y":65420},{"x":6960,"y":72360},{"x":7680,"y":63580},{"x":8640,"y":68120},{"x":9360,"y":77480},{"x":2330,"y":11370},{"x":2870,"y":8760},{"x":3640,"y":7840},{"x":4470,"y":13270},{"x":5280,"y":10480},{"x":6660,"y":16840},{"x":7470,"y":17230},{"x":8140,"y":19870},{"x":9080,"y":21280},{"x":9760,"y":29370},{"x":10440,"y":24830},{"x":11180,"y":33340},{"x":11960,"y":37380},{"x":12740,"y":43860},{"x":13260,"y":31840},
{"x":150,"y":4600},{"x":420,"y":8900},{"x":730,"y":15600},{"x":1030,"y":20800},{"x":1330,"y":26800},{"x":170,"y":29200},{"x":460,"y":31300},{"x":810,"y":36100},{"x":1280,"y":39400},{"x":350,"y":40800},{"x":620,"y":24400},{"x":930,"y":27600},{"x":1190,"y":33900},{"x":1420,"y":11300},{"x":1290,"y":3200},{"x":360,"y":17900},{"x":880,"y":22300},{"x":1150,"y":7200},{"x":540,"y":12100},{"x":60,"y":33700},{"x":1860,"y":27700},{"x":2130,"y":23300},{"x":2470,"y":34800},{"x":2740,"y":29300},{"x":3060,"y":32100},{"x":3340,"y":40200},{"x":3620,"y":35800},{"x":1740,"y":33400},{"x":2090,"y":16900},{"x":2390,"y":8100},{"x":2780,"y":18600},{"x":3120,"y":17600},{"x":3460,"y":26100},{"x":3770,"y":30900},{"x":4060,"y":22700},{"x":4340,"y":25600},{"x":4620,"y":20400},{"x":4930,"y":31400},{"x":5240,"y":35100},{"x":5530,"y":29500},{"x":5830,"y":33500},{"x":6140,"y":38200},{"x":6450,"y":29300},{"x":6740,"y":44200},{"x":7060,"y":35600},{"x":7360,"y":27600},{"x":7660,"y":37400},{"x":7970,"y":41700},{"x":8260,"y":31500},{"x":8560,"y":46000},{"x":8860,"y":36700},{"x":3260,"y":6100},{"x":2560,"y":4600},{"x":1960,"y":6600}],
"bl":[{"x":16900,"y":7000},{"x":17200,"y":8500},{"x":16900,"y":10000},{"x":17200,"y":11500},{"x":16900,"y":13000},{"x":17200,"y":14500},{"x":16900,"y":16000},{"x":17200,"y":17500},{"x":16900,"y":19000},{"x":17200,"y":20500},{"x":16900,"y":22000},{"x":17200,"y":23500},{"x":16900,"y":25000},{"x":17200,"y":26500},{"x":16900,"y":28000},{"x":17200,"y":29500},{"x":16900,"y":31000},{"x":17200,"y":32500},{"x":16900,"y":34000},{"x":17500,"y":7800},{"x":17500,"y":10800},{"x":17500,"y":13800},{"x":17500,"y":16800},{"x":17500,"y":19800},{"x":17500,"y":22800},{"x":17500,"y":25800},{"x":17500,"y":28800},{"x":17500,"y":31800},{"x":17000,"y":37000},{"x":17100,"y":40000},{"x":16900,"y":43500},{"x":17200,"y":47000},{"x":17000,"y":52000},{"x":17100,"y":56000},{"x":17000,"y":59000},{"x":17300,"y":69500},{"x":17100,"y":84500},{"x":17600,"y":69500},{"x":16900,"y":4500},
{"x":18200,"y":8000},{"x":18600,"y":10000},{"x":19000,"y":12000},{"x":19400,"y":14000},{"x":19800,"y":16000},{"x":20200,"y":18000},{"x":20600,"y":20000},{"x":18400,"y":22000},{"x":18800,"y":24000},{"x":19200,"y":26000},{"x":19600,"y":28000},{"x":20000,"y":30000},{"x":20400,"y":32000},{"x":20800,"y":34000},{"x":18300,"y":15000},{"x":18700,"y":17000},{"x":19100,"y":19000},{"x":19500,"y":21000},{"x":19900,"y":23000},{"x":20300,"y":25000},{"x":20700,"y":27000},{"x":18500,"y":29000},{"x":18900,"y":31000},{"x":19300,"y":33000},{"x":19700,"y":35000},{"x":20100,"y":37000},{"x":20500,"y":39000},{"x":20900,"y":41000},{"x":18200,"y":36000},{"x":18600,"y":38000},{"x":19000,"y":40000},{"x":19500,"y":42500},{"x":20000,"y":45000},{"x":20500,"y":48000},{"x":19200,"y":9000},{"x":20000,"y":10500},{"x":20800,"y":12500},{"x":18100,"y":18500},{"x":18900,"y":13500},{"x":19700,"y":11000},{"x":20400,"y":14500},{"x":18600,"y":27000},{"x":20900,"y":22500},{"x":19400,"y":6000},{"x":21000,"y":8500},{"x":18400,"y":52000},{"x":19800,"y":55000},{"x":20700,"y":58000},{"x":20000,"y":80000},{"x":19800,"y":79500},{"x":20400,"y":69000},{"x":21000,"y":62000},
{"x":21200,"y":9000},{"x":21600,"y":11000},{"x":22000,"y":13000},{"x":22400,"y":15000},{"x":22800,"y":17000},{"x":23200,"y":19000},{"x":23600,"y":21000},{"x":24000,"y":23000},{"x":24400,"y":25000},{"x":24800,"y":27000},{"x":21400,"y":17500},{"x":21800,"y":19500},{"x":22200,"y":21500},{"x":22600,"y":23500},{"x":23000,"y":25500},{"x":23400,"y":27500},{"x":23800,"y":29500},{"x":24200,"y":31500},{"x":24600,"y":33500},{"x":21300,"y":26000},{"x":21700,"y":28000},{"x":22100,"y":30000},{"x":22500,"y":32000},{"x":22900,"y":34000},{"x":23300,"y":36000},{"x":23700,"y":38000},{"x":24100,"y":40000},{"x":24500,"y":42000},{"x":24900,"y":44000},{"x":21500,"y":35000},{"x":21900,"y":37000},{"x":22300,"y":39000},{"x":22700,"y":41000},{"x":23100,"y":43000},{"x":23500,"y":45000},{"x":23900,"y":47000},{"x":24300,"y":49000},{"x":24700,"y":51000},{"x":21200,"y":42000},{"x":21800,"y":45500},{"x":22400,"y":48500},{"x":23000,"y":52000},{"x":23600,"y":55000},{"x":24200,"y":58000},{"x":24800,"y":62000},{"x":21600,"y":13500},{"x":22400,"y":10500},{"x":23200,"y":12500},{"x":24000,"y":14500},{"x":24800,"y":16500},{"x":22000,"y":8000},{"x":23000,"y":7000},{"x":24000,"y":9500},{"x":21400,"y":22000},{"x":22200,"y":26000},{"x":23000,"y":29500},{"x":23800,"y":33500},{"x":24600,"y":37500},{"x":21100,"y":31500},{"x":22800,"y":45000},{"x":24400,"y":20000},{"x":23400,"y":16000},{"x":22600,"y":19000},{"x":21900,"y":24000},{"x":24900,"y":22000},{"x":22000,"y":60000},{"x":23000,"y":65000},{"x":24000,"y":69000},{"x":21500,"y":65000},{"x":22500,"y":3000},{"x":23300,"y":3000},{"x":24400,"y":3500},{"x":22700,"y":84000},{"x":23500,"y":84000},{"x":24600,"y":108000},{"x":25200,"y":108000},{"x":24000,"y":73000},{"x":21800,"y":70000},{"x":23800,"y":61000},{"x":25000,"y":90000},{"x":22600,"y":76000},
{"x":25200,"y":10000},{"x":25600,"y":12000},{"x":26000,"y":14000},{"x":26400,"y":16000},{"x":26800,"y":18000},{"x":27200,"y":20000},{"x":27600,"y":22000},{"x":28000,"y":24000},{"x":28400,"y":26000},{"x":28800,"y":28000},{"x":29200,"y":30000},{"x":29600,"y":32000},{"x":25400,"y":19000},{"x":25800,"y":21000},{"x":26200,"y":23000},{"x":26600,"y":25000},{"x":27000,"y":27000},{"x":27400,"y":29000},{"x":27800,"y":31000},{"x":28200,"y":33000},{"x":28600,"y":35000},{"x":29000,"y":37000},{"x":29400,"y":39000},{"x":29800,"y":41000},{"x":25300,"y":28000},{"x":25700,"y":30000},{"x":26100,"y":32000},{"x":26500,"y":34000},{"x":26900,"y":36000},{"x":27300,"y":38000},{"x":27700,"y":40000},{"x":28100,"y":42000},{"x":28500,"y":44000},{"x":28900,"y":46000},{"x":29300,"y":48000},{"x":29700,"y":50000},{"x":25500,"y":37000},{"x":25900,"y":39000},{"x":26300,"y":41000},{"x":26700,"y":43000},{"x":27100,"y":45000},{"x":27500,"y":47000},{"x":27900,"y":49000},{"x":28300,"y":51000},{"x":28700,"y":53000},{"x":29100,"y":55000},{"x":29500,"y":57000},{"x":29900,"y":59000},{"x":25200,"y":46000},{"x":25600,"y":48000},{"x":26000,"y":50000},{"x":26400,"y":52000},{"x":26800,"y":54000},{"x":27200,"y":56000},{"x":27600,"y":58000},{"x":28000,"y":60000},{"x":28400,"y":62000},{"x":28800,"y":64000},{"x":29200,"y":66000},{"x":25100,"y":55000},{"x":25900,"y":58000},{"x":26600,"y":61000},{"x":27400,"y":64000},{"x":28200,"y":68000},{"x":29000,"y":70000},{"x":29800,"y":68000},{"x":25800,"y":14000},{"x":26600,"y":10500},{"x":27400,"y":12500},{"x":28200,"y":14500},{"x":29000,"y":16500},{"x":29800,"y":18500},{"x":26000,"y":7000},{"x":27000,"y":8500},{"x":28000,"y":9500},{"x":29000,"y":11000},{"x":25500,"y":24500},{"x":26300,"y":27500},{"x":27100,"y":33000},{"x":27900,"y":36500},{"x":28700,"y":40000},{"x":29500,"y":43500},{"x":26200,"y":19000},{"x":27000,"y":16000},{"x":27800,"y":18000},{"x":28600,"y":20000},{"x":29400,"y":23000},{"x":28000,"y":28500},{"x":29000,"y":25500},{"x":26800,"y":47500},{"x":27600,"y":51500},{"x":28500,"y":55500},{"x":29300,"y":61500},{"x":25700,"y":44000},{"x":29600,"y":36000},{"x":27200,"y":24000},{"x":25300,"y":33500},{"x":29900,"y":27000},{"x":26000,"y":62500},{"x":27000,"y":67000},{"x":28000,"y":72000},{"x":29000,"y":74000},{"x":25500,"y":70000},{"x":26500,"y":75000},{"x":27500,"y":78000},{"x":28500,"y":80000},{"x":26200,"y":95000},{"x":27000,"y":98000},{"x":28800,"y":107000},{"x":29500,"y":112000},{"x":27600,"y":106000},{"x":26800,"y":115000},{"x":25800,"y":100000},{"x":29200,"y":86000},{"x":28300,"y":90000},{"x":27800,"y":88000},{"x":26400,"y":82000},{"x":25300,"y":87000},{"x":29800,"y":95000},{"x":28100,"y":97000},{"x":26000,"y":104000},{"x":26500,"y":5000},{"x":27200,"y":4000},{"x":28300,"y":6000},{"x":29400,"y":8000},
{"x":30200,"y":14000},{"x":30600,"y":16000},{"x":31000,"y":18000},{"x":31400,"y":20000},{"x":31800,"y":22000},{"x":32200,"y":24000},{"x":32600,"y":26000},{"x":33000,"y":28000},{"x":33400,"y":30000},{"x":33800,"y":32000},{"x":34200,"y":34000},{"x":34600,"y":36000},{"x":30400,"y":24000},{"x":30800,"y":26000},{"x":31200,"y":28000},{"x":31600,"y":30000},{"x":32000,"y":32000},{"x":32400,"y":34000},{"x":32800,"y":36000},{"x":33200,"y":38000},{"x":33600,"y":40000},{"x":34000,"y":42000},{"x":34400,"y":44000},{"x":34800,"y":46000},{"x":30300,"y":33000},{"x":30700,"y":35000},{"x":31100,"y":37000},{"x":31500,"y":39000},{"x":31900,"y":41000},{"x":32300,"y":43000},{"x":32700,"y":45000},{"x":33100,"y":47000},{"x":33500,"y":49000},{"x":33900,"y":51000},{"x":34300,"y":53000},{"x":34700,"y":55000},{"x":30500,"y":43000},{"x":30900,"y":45000},{"x":31300,"y":47000},{"x":31700,"y":49000},{"x":32100,"y":51000},{"x":32500,"y":53000},{"x":32900,"y":55000},{"x":33300,"y":57000},{"x":33700,"y":59000},{"x":34100,"y":61000},{"x":34500,"y":63000},{"x":30200,"y":52000},{"x":30600,"y":54000},{"x":31000,"y":56000},{"x":31400,"y":58000},{"x":31800,"y":60000},{"x":32200,"y":62000},{"x":32600,"y":64000},{"x":33000,"y":66000},{"x":33400,"y":64500},{"x":33800,"y":66500},{"x":34200,"y":66000},{"x":30800,"y":62000},{"x":31600,"y":66500},{"x":32400,"y":69000},{"x":33200,"y":70000},{"x":34000,"y":69000},{"x":34800,"y":26000},{"x":34400,"y":22000},{"x":34000,"y":19000},{"x":33600,"y":17000},{"x":33200,"y":15000},{"x":32800,"y":13000},{"x":30100,"y":28500},{"x":31300,"y":33500},{"x":32500,"y":38500},{"x":33700,"y":44500},{"x":34900,"y":50500},{"x":30900,"y":21500},{"x":32100,"y":19500},{"x":33300,"y":23000},{"x":34500,"y":29000},{"x":31700,"y":25000},{"x":32900,"y":31500},{"x":34100,"y":37500},{"x":30400,"y":39000},{"x":31800,"y":43500},{"x":33200,"y":52500},{"x":30000,"y":48000},{"x":34600,"y":40000},{"x":32000,"y":56000},{"x":31200,"y":62000},{"x":30600,"y":10000},{"x":31500,"y":11000},{"x":33000,"y":10500},{"x":34000,"y":12000},{"x":30000,"y":70000},{"x":31000,"y":72000},{"x":32000,"y":74000},{"x":33500,"y":75000},{"x":34500,"y":73000},{"x":31500,"y":78000},{"x":33000,"y":80000},{"x":34000,"y":84000},{"x":30500,"y":84000},{"x":32500,"y":88000},{"x":33500,"y":90000},{"x":31000,"y":92000},{"x":34500,"y":95000},{"x":32000,"y":100000},{"x":33000,"y":110000},{"x":34000,"y":104000},{"x":30500,"y":98000},{"x":31800,"y":120000},{"x":33500,"y":125000},{"x":34500,"y":112000},{"x":32800,"y":115000},{"x":31000,"y":107000},{"x":34800,"y":80000},{"x":30200,"y":90000},
{"x":35200,"y":18000},{"x":35600,"y":21000},{"x":36000,"y":24000},{"x":36400,"y":27000},{"x":36800,"y":30000},{"x":37200,"y":33000},{"x":37600,"y":36000},{"x":38000,"y":39000},{"x":38400,"y":42000},{"x":38800,"y":45000},{"x":39200,"y":48000},{"x":39600,"y":51000},{"x":35400,"y":30000},{"x":35800,"y":33000},{"x":36200,"y":36000},{"x":36600,"y":39000},{"x":37000,"y":42000},{"x":37400,"y":45000},{"x":37800,"y":48000},{"x":38200,"y":51000},{"x":38600,"y":54000},{"x":39000,"y":57000},{"x":39400,"y":60000},{"x":35300,"y":40000},{"x":35700,"y":43000},{"x":36100,"y":46000},{"x":36500,"y":49000},{"x":36900,"y":52000},{"x":37300,"y":55000},{"x":37700,"y":58000},{"x":38100,"y":61000},{"x":38500,"y":64000},{"x":35500,"y":52000},{"x":35900,"y":55000},{"x":36300,"y":58000},{"x":36700,"y":61000},{"x":37100,"y":64000},{"x":36000,"y":66000},{"x":35200,"y":62000},{"x":35800,"y":15000},{"x":36600,"y":17000},{"x":37400,"y":20000},{"x":38200,"y":23000},{"x":39000,"y":26000},{"x":39800,"y":30000},{"x":37000,"y":25000},{"x":38000,"y":28000},{"x":39000,"y":33000},{"x":39800,"y":38000},{"x":38600,"y":34000},{"x":39400,"y":42000},{"x":35000,"y":25000},{"x":37800,"y":14000},{"x":36800,"y":70000},{"x":37500,"y":75000},{"x":38500,"y":70000},{"x":39500,"y":68000},{"x":36000,"y":80000},{"x":37000,"y":85000},{"x":38000,"y":90000},{"x":39000,"y":80000},{"x":36500,"y":100000},{"x":37500,"y":103000},{"x":38500,"y":95000},{"x":39500,"y":110000},{"x":37000,"y":110000},{"x":38000,"y":131000},{"x":36000,"y":115000},{"x":39800,"y":88000},{"x":35500,"y":92000},{"x":35000,"y":83000},{"x":36500,"y":88000},{"x":38800,"y":77000},{"x":39200,"y":98000},{"x":37800,"y":65000},{"x":39000,"y":12500},{"x":39600,"y":22000},
{"x":40200,"y":20000},{"x":40600,"y":23000},{"x":41000,"y":26000},{"x":41400,"y":29000},{"x":41800,"y":32000},{"x":42200,"y":35000},{"x":42600,"y":38000},{"x":43000,"y":41000},{"x":43400,"y":44000},{"x":43800,"y":47000},{"x":44200,"y":50000},{"x":44600,"y":53000},{"x":40400,"y":32000},{"x":40800,"y":35000},{"x":41200,"y":38000},{"x":41600,"y":41000},{"x":42000,"y":44000},{"x":42400,"y":47000},{"x":42800,"y":50000},{"x":43200,"y":53000},{"x":43600,"y":56000},{"x":44000,"y":59000},{"x":44400,"y":62000},{"x":40300,"y":44000},{"x":40700,"y":47000},{"x":41100,"y":50000},{"x":41500,"y":53000},{"x":41900,"y":56000},{"x":42300,"y":59000},{"x":42700,"y":62000},{"x":43100,"y":65000},{"x":40500,"y":56000},{"x":41300,"y":61000},{"x":42100,"y":66000},{"x":40000,"y":60000},{"x":41000,"y":65000},{"x":41800,"y":24000},{"x":42800,"y":27000},{"x":43800,"y":31000},{"x":44800,"y":35000},{"x":43200,"y":34000},{"x":44200,"y":40000},{"x":40900,"y":17000},{"x":44600,"y":44000},{"x":42500,"y":70000},{"x":41500,"y":73000},{"x":43500,"y":72000},{"x":44500,"y":68000},{"x":40500,"y":80000},{"x":41500,"y":88000},{"x":42500,"y":82000},{"x":43500,"y":90000},{"x":44500,"y":85000},{"x":40800,"y":100000},{"x":41700,"y":110000},{"x":42800,"y":98000},{"x":43800,"y":105000},{"x":41000,"y":134000},{"x":41800,"y":133000},{"x":42200,"y":129000},{"x":44000,"y":113000},{"x":40200,"y":113000},{"x":43000,"y":78000},{"x":44800,"y":76000},{"x":42000,"y":94000},
{"x":45300,"y":28000},{"x":45800,"y":33000},{"x":46300,"y":38000},{"x":46800,"y":43000},{"x":47300,"y":48000},{"x":47800,"y":53000},{"x":48300,"y":58000},{"x":48800,"y":63000},{"x":45500,"y":45000},{"x":46000,"y":50000},{"x":46500,"y":55000},{"x":47000,"y":60000},{"x":47500,"y":65000},{"x":48000,"y":40000},{"x":48500,"y":45000},{"x":49000,"y":50000},{"x":49500,"y":55000},{"x":45200,"y":38000},{"x":46700,"y":30000},{"x":47700,"y":35000},{"x":48700,"y":32000},{"x":49700,"y":40000},{"x":50300,"y":45000},{"x":50800,"y":50000},{"x":51300,"y":38000},{"x":51800,"y":55000},{"x":52300,"y":42000},{"x":52800,"y":60000},{"x":53300,"y":48000},{"x":53800,"y":35000},{"x":54300,"y":30000},{"x":54800,"y":30000},{"x":50500,"y":33000},{"x":51500,"y":28000},{"x":52500,"y":34000},{"x":46000,"y":25000},{"x":49000,"y":25000},{"x":53000,"y":25000},{"x":45800,"y":70000},{"x":46800,"y":78000},{"x":47800,"y":85000},{"x":48800,"y":92000},{"x":49800,"y":72000},{"x":50800,"y":80000},{"x":51800,"y":88000},{"x":52800,"y":76000},{"x":53800,"y":85000},{"x":54800,"y":90000},{"x":45500,"y":100000},{"x":46500,"y":95000},{"x":47500,"y":90000},{"x":48500,"y":110000},{"x":49500,"y":105000},{"x":50500,"y":98000},{"x":51500,"y":128000},{"x":52500,"y":108000},{"x":53800,"y":100000},{"x":54500,"y":118000},{"x":53000,"y":143000},{"x":54500,"y":143000},{"x":47500,"y":135000},{"x":47800,"y":144000},{"x":50000,"y":134000},{"x":50200,"y":130000},{"x":46500,"y":109000},{"x":48000,"y":102000},{"x":52000,"y":67000},{"x":54000,"y":66000},{"x":55000,"y":65000},{"x":51000,"y":62000},{"x":49500,"y":60000},{"x":45000,"y":58000},{"x":46000,"y":64000},
{"x":55500,"y":58000},{"x":56000,"y":66000},{"x":56500,"y":45000},{"x":57000,"y":72000},{"x":57500,"y":62000},{"x":58000,"y":50000},{"x":58500,"y":40000},{"x":59000,"y":55000},{"x":59500,"y":97000},{"x":59800,"y":132000},{"x":60000,"y":126000},{"x":60300,"y":48000},{"x":60800,"y":64000},{"x":61000,"y":84000},{"x":61300,"y":36000},{"x":61500,"y":57000},{"x":62000,"y":35000},{"x":62500,"y":48000},{"x":63000,"y":53000},{"x":63500,"y":42000},{"x":64000,"y":68000},{"x":64500,"y":35000},{"x":64800,"y":82000},{"x":65000,"y":64000},{"x":65500,"y":97000},{"x":66000,"y":105000},{"x":66500,"y":70000},{"x":67000,"y":92000},{"x":69000,"y":101000},{"x":70500,"y":64000},{"x":71000,"y":57000},{"x":72500,"y":72000},{"x":72800,"y":85000},{"x":73000,"y":86000},{"x":57000,"y":30000},{"x":58500,"y":33000},{"x":60000,"y":62000},{"x":62000,"y":88000},{"x":56000,"y":79000},{"x":58000,"y":86000},{"x":61500,"y":100000},{"x":63000,"y":59000},{"x":79800,"y":55000},{"x":55800,"y":112000},{"x":57500,"y":102000},
{"x":17740,"y":9260},{"x":18130,"y":11840},{"x":17960,"y":14370},{"x":18470,"y":16120},{"x":18240,"y":19780},{"x":18830,"y":21640},{"x":18060,"y":24370},{"x":18620,"y":26180},{"x":18370,"y":28940},{"x":18910,"y":30760},{"x":17880,"y":33420},{"x":18560,"y":35240},{"x":19130,"y":7420},{"x":19480,"y":9870},{"x":19270,"y":12630},{"x":19860,"y":14760},{"x":19620,"y":17340},{"x":20140,"y":19580},{"x":19930,"y":22160},{"x":20470,"y":23840},{"x":20260,"y":26470},{"x":20830,"y":28610},{"x":20570,"y":30940},{"x":21140,"y":33270},{"x":19340,"y":31830},{"x":19780,"y":37480},{"x":20630,"y":35860},{"x":21270,"y":38740},{"x":21560,"y":24260},{"x":21840,"y":15620},{"x":21370,"y":19930},{"x":21740,"y":31460},{"x":20710,"y":16460},{"x":19060,"y":28560},{"x":18240,"y":43960},{"x":18870,"y":47730},{"x":19640,"y":50160},{"x":20380,"y":41840},{"x":21060,"y":46370},{"x":21620,"y":49820},{"x":17820,"y":39280},{"x":18460,"y":31380},{"x":20920,"y":9940},{"x":21480,"y":7360},
{"x":22160,"y":11460},{"x":22530,"y":14280},{"x":22340,"y":17760},{"x":22870,"y":19640},{"x":22610,"y":22780},{"x":23140,"y":24360},{"x":22940,"y":27830},{"x":23470,"y":29460},{"x":23230,"y":32680},{"x":23780,"y":34830},{"x":23560,"y":37940},{"x":24070,"y":39430},{"x":23860,"y":42860},{"x":24380,"y":44670},{"x":24160,"y":47830},{"x":24640,"y":50860},{"x":24430,"y":53480},{"x":24940,"y":56260},{"x":22470,"y":36280},{"x":22760,"y":43840},{"x":23040,"y":48630},{"x":23380,"y":51720},{"x":22280,"y":52930},{"x":23690,"y":14630},{"x":24230,"y":17840},{"x":24560,"y":21970},{"x":24820,"y":24630},{"x":25140,"y":12380},{"x":25470,"y":16640},{"x":25830,"y":18730},{"x":25260,"y":22470},{"x":25680,"y":26740},{"x":25940,"y":29380},{"x":26170,"y":25860},{"x":26430,"y":29940},{"x":26680,"y":32470},{"x":25430,"y":31960},{"x":25770,"y":35720},{"x":26060,"y":38360},{"x":26380,"y":36480},{"x":26640,"y":39960},{"x":26920,"y":41680},{"x":25360,"y":40870},{"x":25630,"y":43760},{"x":25960,"y":46480},{"x":26240,"y":44380},{"x":26560,"y":48470},{"x":26830,"y":50360},{"x":25470,"y":50680},{"x":25840,"y":53460},{"x":26140,"y":55840},{"x":26460,"y":57470},{"x":26760,"y":59630},{"x":25180,"y":59280},{"x":25560,"y":61730},{"x":26260,"y":64760},{"x":26940,"y":62370},{"x":26040,"y":20460},{"x":26380,"y":13480},{"x":26760,"y":15670},{"x":25060,"y":14960},{"x":25380,"y":8840},{"x":25740,"y":10640},{"x":26540,"y":8260},{"x":24680,"y":29760},{"x":24260,"y":35670},{"x":23560,"y":40460},{"x":24720,"y":45860},{"x":23920,"y":60370},{"x":22860,"y":57380},
{"x":27180,"y":14360},{"x":27460,"y":17680},{"x":27740,"y":19460},{"x":27260,"y":22740},{"x":27540,"y":25380},{"x":27860,"y":27470},{"x":27340,"y":31240},{"x":27660,"y":34630},{"x":27920,"y":33280},{"x":27240,"y":36860},{"x":27580,"y":39270},{"x":27880,"y":41660},{"x":27320,"y":43480},{"x":27640,"y":45820},{"x":27960,"y":47630},{"x":27280,"y":48960},{"x":27560,"y":52740},{"x":27860,"y":54270},{"x":27380,"y":57730},{"x":27720,"y":60270},{"x":28160,"y":16830},{"x":28470,"y":18840},{"x":28720,"y":21870},{"x":28260,"y":25370},{"x":28560,"y":27860},{"x":28860,"y":30460},{"x":28340,"y":31470},{"x":28640,"y":34270},{"x":28940,"y":36740},{"x":28280,"y":38470},{"x":28580,"y":40860},{"x":28880,"y":42470},{"x":28360,"y":45340},{"x":28660,"y":47380},{"x":28960,"y":49480},{"x":28260,"y":50870},{"x":28560,"y":53380},{"x":28860,"y":55870},{"x":28360,"y":58730},{"x":28660,"y":60860},{"x":28960,"y":62480},{"x":29160,"y":18970},{"x":29460,"y":20640},{"x":29760,"y":22480},{"x":29240,"y":27460},{"x":29560,"y":29240},{"x":29860,"y":31360},{"x":29340,"y":33860},{"x":29660,"y":35260},{"x":29960,"y":37470},{"x":29260,"y":40460},{"x":29560,"y":42470},{"x":29860,"y":44860},{"x":29360,"y":46460},{"x":29660,"y":48860},{"x":29960,"y":51270},{"x":29260,"y":53460},{"x":29560,"y":55460},{"x":29860,"y":57470},{"x":29460,"y":63260},{"x":29760,"y":61460},{"x":30260,"y":19860},{"x":30560,"y":22360},{"x":30860,"y":24660},{"x":30360,"y":26860},{"x":30660,"y":29260},{"x":30960,"y":31460},{"x":30360,"y":35460},{"x":30660,"y":37460},{"x":30960,"y":39460},{"x":30260,"y":41460},{"x":30560,"y":45460},{"x":30860,"y":47460},{"x":30360,"y":49460},{"x":30660,"y":51460},{"x":30960,"y":53460},{"x":30360,"y":57460},{"x":30660,"y":59460},{"x":30960,"y":61460},{"x":31260,"y":21460},{"x":31560,"y":23860},{"x":31860,"y":26460},{"x":31360,"y":31260},{"x":31660,"y":33860},{"x":31960,"y":35860},{"x":31260,"y":39860},{"x":31560,"y":41860},{"x":31860,"y":45260},{"x":31360,"y":50860},{"x":31660,"y":52860},{"x":31960,"y":54860},{"x":31260,"y":60260},{"x":31560,"y":63460},{"x":32160,"y":27460},{"x":32460,"y":29860},{"x":32760,"y":32460},{"x":32260,"y":36460},{"x":32560,"y":40260},{"x":32860,"y":42460},{"x":32260,"y":46460},{"x":32560,"y":48460},{"x":32860,"y":50460},{"x":32260,"y":54460},{"x":32560,"y":57460},{"x":32860,"y":59460},{"x":32260,"y":65860},{"x":32860,"y":67460},
{"x":33160,"y":25460},{"x":33460,"y":27260},{"x":33760,"y":29860},{"x":33260,"y":33460},{"x":33560,"y":35660},{"x":33860,"y":37860},{"x":33260,"y":41460},{"x":33560,"y":43260},{"x":33860,"y":46260},{"x":33260,"y":50460},{"x":33560,"y":53860},{"x":33860,"y":55860},{"x":33460,"y":61860},{"x":34160,"y":28460},{"x":34460,"y":31460},{"x":34760,"y":33660},{"x":34260,"y":38860},{"x":34560,"y":41460},{"x":34860,"y":43860},{"x":34260,"y":47460},{"x":34560,"y":50460},{"x":34860,"y":52860},{"x":34260,"y":57460},{"x":34660,"y":59860},{"x":34960,"y":61260},{"x":35160,"y":22460},{"x":35460,"y":26860},{"x":35760,"y":28460},{"x":35260,"y":35460},{"x":35560,"y":38460},{"x":35860,"y":41460},{"x":35360,"y":45460},{"x":35660,"y":48460},{"x":35960,"y":50460},{"x":35460,"y":56860},{"x":35760,"y":59860},{"x":36160,"y":30460},{"x":36460,"y":33460},{"x":36760,"y":35460},{"x":36260,"y":41460},{"x":36560,"y":43860},{"x":36860,"y":47460},{"x":36360,"y":53460},{"x":36660,"y":55460},{"x":37160,"y":29460},{"x":37460,"y":31260},{"x":37760,"y":38460},{"x":37360,"y":40460},{"x":37660,"y":50460},{"x":37960,"y":53460},{"x":38160,"y":32460},{"x":38460,"y":36460},{"x":38760,"y":40460},{"x":38360,"y":46460},{"x":38660,"y":49460},{"x":38960,"y":52460},{"x":39160,"y":36260},{"x":39460,"y":45460},{"x":39760,"y":47460},{"x":40260,"y":28460},{"x":40660,"y":37460},{"x":41260,"y":33460},{"x":41660,"y":44860},{"x":42260,"y":40460},{"x":42660,"y":53460},{"x":43260,"y":48460},{"x":44260,"y":46460},{"x":40860,"y":41260},{"x":41860,"y":47860},{"x":43660,"y":38460},{"x":39360,"y":29460},{"x":37160,"y":26460},{"x":36260,"y":22460},{"x":38060,"y":18460},{"x":40460,"y":25460},
{"x":24000,"y":69500},{"x":24800,"y":69300},{"x":25600,"y":69500},{"x":26400,"y":69400},{"x":27200,"y":69600},{"x":28000,"y":69500},{"x":28800,"y":69300},{"x":29600,"y":69500},{"x":30400,"y":69400},{"x":31200,"y":69600},{"x":32000,"y":69500},{"x":32800,"y":69400},{"x":33600,"y":69500},{"x":34400,"y":69300},{"x":35200,"y":69500},{"x":36000,"y":69400},{"x":28400,"y":66600},{"x":29300,"y":66400},{"x":30200,"y":66700},{"x":31100,"y":66500},{"x":32000,"y":66600},{"x":32900,"y":66400},{"x":33800,"y":66600},{"x":34700,"y":66500},{"x":35600,"y":66700},{"x":36500,"y":66400},
{"x":35350,"y":19460},{"x":35870,"y":24630},{"x":36420,"y":20880},{"x":36930,"y":27470},{"x":37480,"y":23640},{"x":38010,"y":25960},{"x":38540,"y":30380},{"x":39070,"y":27740},{"x":39610,"y":33870},{"x":40140,"y":30660},{"x":40680,"y":35240},{"x":41220,"y":31980},{"x":41760,"y":37630},{"x":42310,"y":33290},{"x":42850,"y":36870},{"x":43390,"y":42640},{"x":43940,"y":39280},{"x":44480,"y":43870},{"x":45020,"y":40360},{"x":45560,"y":47830},{"x":35640,"y":34920},{"x":36170,"y":38730},{"x":36710,"y":44380},{"x":37240,"y":41260},{"x":37780,"y":46740},{"x":38310,"y":43520},{"x":38850,"y":48960},{"x":39380,"y":46130},{"x":39920,"y":52470},{"x":40450,"y":49820},{"x":40990,"y":54360},{"x":41530,"y":51240},{"x":42060,"y":57460},{"x":42600,"y":55130},{"x":43130,"y":50870},{"x":43670,"y":59640},{"x":44200,"y":56230},{"x":44740,"y":60370},{"x":45280,"y":52460},{"x":45810,"y":56870},{"x":36240,"y":61720},{"x":37860,"y":60160},{"x":39240,"y":63480},{"x":40720,"y":62870},{"x":42380,"y":64360},{"x":44060,"y":64980},
{"x":17380,"y":12260},{"x":17620,"y":15560},{"x":17860,"y":18440},{"x":18120,"y":21260},{"x":17440,"y":24880},{"x":17680,"y":27640},{"x":17920,"y":30280},{"x":18180,"y":33160},{"x":18440,"y":9560},{"x":18760,"y":12840},{"x":19080,"y":15720},{"x":19360,"y":18660},{"x":19680,"y":24540},{"x":20060,"y":27260},{"x":20340,"y":29860},{"x":20660,"y":33180},{"x":21060,"y":36240},{"x":21460,"y":39880},{"x":21920,"y":41760},{"x":22260,"y":44860},{"x":22680,"y":33360},{"x":23080,"y":37840},{"x":23460,"y":31260},{"x":23860,"y":26260},{"x":24260,"y":28440},{"x":24660,"y":40360},{"x":22040,"y":18260},{"x":22440,"y":12460},{"x":22840,"y":9260},{"x":23240,"y":10860},{"x":23640,"y":8460},{"x":24040,"y":11860},{"x":24440,"y":13260},{"x":24840,"y":10260}],
"br":[{"x":0,"y":500},{"x":100,"y":1500},{"x":200,"y":2500},{"x":0,"y":3500},{"x":300,"y":4500},{"x":100,"y":5500},{"x":400,"y":6500},{"x":0,"y":7500},{"x":200,"y":8500},{"x":500,"y":9500},{"x":100,"y":10500},{"x":300,"y":11500},{"x":700,"y":12500},{"x":600,"y":1000},{"x":800,"y":3000},{"x":900,"y":5000},{"x":1000,"y":7000},{"x":600,"y":9000},{"x":500,"y":700},{"x":900,"y":11000},
{"x":1200,"y":1000},{"x":1500,"y":3000},{"x":1800,"y":5000},{"x":2100,"y":7000},{"x":2400,"y":9000},{"x":2700,"y":11000},{"x":3000,"y":13000},{"x":1300,"y":6000},{"x":1700,"y":8500},{"x":2200,"y":10500},{"x":2600,"y":12500},{"x":3100,"y":15000},{"x":3500,"y":17000},{"x":1400,"y":13000},{"x":2000,"y":14500},{"x":2800,"y":16500},{"x":3300,"y":18500},{"x":3800,"y":20500},{"x":3600,"y":2000},{"x":4000,"y":400},{"x":4500,"y":300},{"x":5000,"y":200},{"x":5500,"y":300},{"x":6000,"y":400},{"x":6500,"y":500},{"x":3200,"y":4500},{"x":3800,"y":6500},{"x":4300,"y":8500},{"x":4800,"y":10500},{"x":4100,"y":12500},{"x":4600,"y":14500},{"x":5000,"y":16500},{"x":4400,"y":18500},{"x":4900,"y":20500},{"x":4000,"y":22500},{"x":3000,"y":9500},{"x":3500,"y":11000},{"x":4200,"y":3000},{"x":4700,"y":5500},{"x":2600,"y":3500},{"x":3400,"y":7000},{"x":1900,"y":31500},{"x":1500,"y":15500},{"x":2400,"y":17500},{"x":5000,"y":24500},
{"x":5300,"y":3000},{"x":5800,"y":5000},{"x":6300,"y":7000},{"x":6800,"y":9000},{"x":7300,"y":11000},{"x":7800,"y":13000},{"x":8300,"y":15000},{"x":8800,"y":17000},{"x":9300,"y":19000},{"x":9800,"y":21000},{"x":5500,"y":12000},{"x":6000,"y":14000},{"x":6500,"y":16000},{"x":7000,"y":18000},{"x":7500,"y":20000},{"x":8000,"y":22000},{"x":8500,"y":24000},{"x":9000,"y":26000},{"x":9500,"y":28000},{"x":5200,"y":18000},{"x":5700,"y":20000},{"x":6200,"y":22000},{"x":6700,"y":24000},{"x":7200,"y":26000},{"x":7700,"y":28000},{"x":8200,"y":30000},{"x":8700,"y":27500},{"x":9200,"y":23500},{"x":9700,"y":25000},{"x":5400,"y":8000},{"x":5900,"y":10000},{"x":6400,"y":11500},{"x":6900,"y":13500},{"x":7400,"y":15500},{"x":7900,"y":17500},{"x":8400,"y":19500},{"x":8900,"y":21500},{"x":9400,"y":14500},{"x":9900,"y":16500},{"x":6000,"y":26000},{"x":6600,"y":28500},{"x":7600,"y":31000},{"x":8600,"y":34000},{"x":8000,"y":38500},{"x":7000,"y":6000},{"x":8000,"y":9000},{"x":9000,"y":11000},{"x":10000,"y":12000},{"x":8500,"y":12000},{"x":9600,"y":9000},{"x":6200,"y":17500},{"x":7400,"y":22500},{"x":5600,"y":15500},{"x":8200,"y":26000},{"x":7000,"y":21500},{"x":9300,"y":32000},
{"x":10300,"y":13000},{"x":10800,"y":15000},{"x":11300,"y":17000},{"x":11800,"y":19000},{"x":12300,"y":21000},{"x":12800,"y":23000},{"x":13300,"y":25000},{"x":13800,"y":27000},{"x":14300,"y":29000},{"x":14800,"y":31000},{"x":10500,"y":20000},{"x":11000,"y":22000},{"x":11500,"y":24000},{"x":12000,"y":26000},{"x":12500,"y":28000},{"x":13000,"y":30000},{"x":13500,"y":32000},{"x":14000,"y":34000},{"x":10200,"y":26000},{"x":10700,"y":28000},{"x":11200,"y":30000},{"x":11700,"y":32000},{"x":12200,"y":34000},{"x":13200,"y":35000},{"x":10400,"y":33000},{"x":10100,"y":8000},{"x":11000,"y":10000},{"x":12000,"y":12000},{"x":13000,"y":14000},{"x":14000,"y":16000},{"x":15000,"y":18000},{"x":11500,"y":14000},{"x":12500,"y":16500},{"x":13500,"y":19000},{"x":14500,"y":21500},{"x":10600,"y":17500},{"x":11900,"y":23000},{"x":13100,"y":27500},{"x":14200,"y":24500},{"x":12700,"y":31000},{"x":14900,"y":26500},{"x":13700,"y":22000},{"x":11300,"y":27000},{"x":14600,"y":33500},{"x":12900,"y":19500},{"x":10900,"y":24500},{"x":15000,"y":13000},{"x":13600,"y":9500},{"x":12000,"y":7500},
{"x":15300,"y":20000},{"x":15800,"y":22000},{"x":16300,"y":24000},{"x":16800,"y":26000},{"x":17300,"y":28000},{"x":17800,"y":30000},{"x":18300,"y":32000},{"x":18800,"y":34000},{"x":19300,"y":36000},{"x":19800,"y":38000},{"x":15500,"y":27000},{"x":16000,"y":29000},{"x":16500,"y":31000},{"x":17000,"y":33000},{"x":17500,"y":35000},{"x":18000,"y":37000},{"x":18500,"y":39000},{"x":19000,"y":41000},{"x":15200,"y":33000},{"x":16200,"y":37000},{"x":17200,"y":40000},{"x":19500,"y":45000},{"x":16000,"y":15000},{"x":17000,"y":17000},{"x":18000,"y":19000},{"x":19000,"y":21000},{"x":20000,"y":23000},{"x":16500,"y":19500},{"x":17500,"y":22000},{"x":18500,"y":24500},{"x":19500,"y":27000},{"x":15600,"y":24500},{"x":16900,"y":29500},{"x":18200,"y":27000},{"x":19200,"y":31500},{"x":17600,"y":25000},{"x":19700,"y":33500},{"x":18700,"y":29000},{"x":16300,"y":34500},{"x":15400,"y":30500},{"x":19900,"y":18000},{"x":18400,"y":15500},{"x":19300,"y":24000},{"x":17300,"y":37000},
{"x":20300,"y":25000},{"x":20800,"y":27000},{"x":21300,"y":29000},{"x":21800,"y":31000},{"x":22300,"y":33000},{"x":22800,"y":35000},{"x":23300,"y":37000},{"x":23800,"y":39000},{"x":24300,"y":41000},{"x":24800,"y":43000},{"x":20500,"y":32000},{"x":21000,"y":34000},{"x":21500,"y":36000},{"x":22000,"y":38000},{"x":22500,"y":40000},{"x":23000,"y":42000},{"x":23500,"y":44000},{"x":21200,"y":43000},{"x":22200,"y":47500},{"x":21000,"y":18000},{"x":22000,"y":20000},{"x":23000,"y":22000},{"x":24000,"y":24000},{"x":25000,"y":26000},{"x":21500,"y":22500},{"x":22500,"y":25000},{"x":23500,"y":27500},{"x":24500,"y":30000},{"x":20700,"y":29500},{"x":22100,"y":28000},{"x":23600,"y":32000},{"x":24600,"y":35500},{"x":23200,"y":30000},{"x":24000,"y":37500},{"x":21700,"y":25500},{"x":20400,"y":21000},{"x":24300,"y":47000},{"x":25000,"y":22000},{"x":23300,"y":18500},
{"x":25300,"y":29000},{"x":25800,"y":31000},{"x":26300,"y":33000},{"x":26800,"y":35000},{"x":27300,"y":37000},{"x":27800,"y":39000},{"x":28300,"y":41000},{"x":28800,"y":43000},{"x":29300,"y":45000},{"x":25500,"y":38000},{"x":26000,"y":40000},{"x":26500,"y":42000},{"x":27000,"y":44000},{"x":27500,"y":46000},{"x":28000,"y":48000},{"x":28500,"y":49000},{"x":27800,"y":52500},{"x":26000,"y":24000},{"x":27000,"y":26000},{"x":28000,"y":28000},{"x":29000,"y":30000},{"x":26500,"y":28500},{"x":27500,"y":30500},{"x":28500,"y":33000},{"x":29500,"y":35000},{"x":25700,"y":34000},{"x":27200,"y":40500},{"x":28700,"y":38000},{"x":29700,"y":40000},{"x":26200,"y":36500},{"x":29200,"y":26500},{"x":28200,"y":23000},{"x":27000,"y":21000},{"x":30000,"y":33000},{"x":32500,"y":13000},
{"x":30500,"y":38000},{"x":31000,"y":41000},{"x":31500,"y":44000},{"x":32000,"y":46000},{"x":32500,"y":35000},{"x":33000,"y":30000},{"x":33500,"y":32000},{"x":34000,"y":36000},{"x":34500,"y":40000},{"x":35000,"y":43000},{"x":35500,"y":47000},{"x":30800,"y":30000},{"x":31800,"y":33000},{"x":32800,"y":28000},{"x":33800,"y":34000},{"x":31200,"y":47000},{"x":32200,"y":45000},{"x":34800,"y":38500},{"x":35200,"y":50000},{"x":36000,"y":36000},{"x":36500,"y":46000},{"x":37000,"y":52500},{"x":37500,"y":39000},{"x":38000,"y":40000},{"x":38500,"y":54000},{"x":39000,"y":42000},{"x":39500,"y":38000},{"x":40000,"y":45000},{"x":40500,"y":39000},{"x":41000,"y":36000},{"x":41500,"y":46000},{"x":42000,"y":58000},{"x":42500,"y":42000},{"x":43000,"y":55000},{"x":43500,"y":49000},{"x":44000,"y":52000},{"x":44500,"y":50000},{"x":45000,"y":48000},{"x":45500,"y":46000},{"x":46000,"y":36000},{"x":46500,"y":42000},{"x":47000,"y":33000},{"x":47500,"y":40000},{"x":48000,"y":35000},{"x":49000,"y":37000},{"x":50000,"y":40000},{"x":50500,"y":46000},{"x":51000,"y":32000},{"x":51500,"y":31000},{"x":33800,"y":49000},{"x":34500,"y":43500},{"x":35500,"y":29000},{"x":36800,"y":32000},{"x":41000,"y":30500},
{"x":52000,"y":60000},{"x":53000,"y":48000},{"x":54000,"y":61000},{"x":54500,"y":70000},{"x":55000,"y":47000},{"x":56500,"y":48000},{"x":58500,"y":47000},{"x":59000,"y":56000},{"x":60000,"y":53000},{"x":60500,"y":56000},{"x":61500,"y":62000},{"x":62000,"y":52000},{"x":62500,"y":55000},{"x":63000,"y":38000},{"x":63200,"y":54000},{"x":65000,"y":67000},{"x":66000,"y":78000},{"x":67500,"y":50000},{"x":68000,"y":49000},{"x":68500,"y":44000},{"x":70000,"y":44000},{"x":71500,"y":70000},{"x":72500,"y":72000},{"x":73000,"y":62000},{"x":73000,"y":55000},{"x":73000,"y":48000},{"x":75000,"y":69000},{"x":78000,"y":90000},{"x":79500,"y":61000},{"x":80000,"y":71000},{"x":80500,"y":54000},{"x":83000,"y":61000},{"x":84000,"y":69000},{"x":86500,"y":68000},{"x":49000,"y":58000},{"x":50500,"y":50000},{"x":57500,"y":48000},
{"x":150,"y":2980},{"x":420,"y":3740},{"x":280,"y":5980},{"x":560,"y":7380},{"x":120,"y":8760},{"x":740,"y":8340},{"x":380,"y":10130},{"x":860,"y":9870},{"x":220,"y":12130},{"x":640,"y":13480},{"x":1080,"y":8760},{"x":1240,"y":10740},{"x":1460,"y":12260},{"x":1080,"y":14380},{"x":1640,"y":11860},{"x":1860,"y":9640},{"x":1980,"y":12760},{"x":2240,"y":13560},{"x":1760,"y":16260},{"x":2360,"y":15460},{"x":2640,"y":14760},{"x":2880,"y":13860},{"x":3240,"y":16460},{"x":2960,"y":18460},{"x":3560,"y":19460},{"x":3160,"y":21360},{"x":3860,"y":22760},{"x":4260,"y":20460},{"x":4560,"y":23360},{"x":4460,"y":16460},{"x":4160,"y":14260},{"x":3760,"y":12860},{"x":3360,"y":9860},{"x":2860,"y":6460},{"x":2360,"y":4860},{"x":1760,"y":2460},{"x":1060,"y":1860},{"x":3160,"y":1460},{"x":2460,"y":1660},{"x":4860,"y":12760},{"x":4560,"y":8260},{"x":3960,"y":9260},{"x":4960,"y":6860},{"x":2160,"y":1260},{"x":1460,"y":7660},{"x":760,"y":14860},{"x":1260,"y":17460},{"x":2060,"y":19860},{"x":2660,"y":22260},{"x":3360,"y":24860},{"x":4060,"y":26260},{"x":4760,"y":27860},
{"x":5260,"y":4960},{"x":5660,"y":7260},{"x":6060,"y":8860},{"x":6460,"y":9660},{"x":5160,"y":10260},{"x":5760,"y":13260},{"x":6260,"y":12760},{"x":6760,"y":15260},{"x":7160,"y":13260},{"x":7660,"y":16260},{"x":8060,"y":14260},{"x":8560,"y":17860},{"x":5460,"y":16260},{"x":5860,"y":18260},{"x":6360,"y":19860},{"x":6860,"y":20260},{"x":7260,"y":23460},{"x":7760,"y":21460},{"x":8260,"y":23860},{"x":8760,"y":22860},{"x":9260,"y":25460},{"x":9760,"y":27460},{"x":5360,"y":21460},{"x":5860,"y":23460},{"x":6460,"y":25460},{"x":6960,"y":27060},{"x":7460,"y":28860},{"x":7960,"y":26260},{"x":8460,"y":28460},{"x":8960,"y":30460},{"x":9460,"y":29860},{"x":9960,"y":31860},{"x":6160,"y":6260},{"x":6660,"y":4560},{"x":7660,"y":8260},{"x":8860,"y":9560},{"x":9760,"y":13860},{"x":9260,"y":16860},{"x":10260,"y":10460},{"x":10660,"y":11860},{"x":11260,"y":13460},{"x":11760,"y":15860},{"x":12260,"y":17360},{"x":12760,"y":18460},{"x":13260,"y":20860},{"x":13760,"y":23260},{"x":14260,"y":22460},{"x":14760,"y":24860},{"x":10460,"y":22460},{"x":10960,"y":19460},{"x":11460,"y":20860},{"x":11960,"y":21460},{"x":12460,"y":24460},{"x":12960,"y":25860},{"x":13460,"y":28460},{"x":13960,"y":29860},{"x":14460,"y":31460},{"x":10360,"y":29860},{"x":10860,"y":31460},{"x":11960,"y":29460},{"x":12460,"y":31860},{"x":12960,"y":33460},{"x":10160,"y":15860},{"x":11660,"y":10860},{"x":12860,"y":11460},{"x":14160,"y":13860},{"x":14660,"y":18860},{"x":13660,"y":16460},{"x":12660,"y":14260},
{"x":15260,"y":16460},{"x":15760,"y":19460},{"x":16260,"y":21460},{"x":16760,"y":22860},{"x":17260,"y":24460},{"x":17760,"y":26860},{"x":18260,"y":28860},{"x":18760,"y":31460},{"x":19260,"y":33460},{"x":19760,"y":35460},{"x":15460,"y":22860},{"x":15960,"y":25460},{"x":16460,"y":27460},{"x":16960,"y":31460},{"x":17460,"y":32460},{"x":17960,"y":34460},{"x":18460,"y":36460},{"x":18960,"y":38460},{"x":19960,"y":41460},{"x":20260,"y":28460},{"x":20760,"y":30460},{"x":21260,"y":32460},{"x":21760,"y":34460},{"x":22260,"y":36460},{"x":22760,"y":38460},{"x":23260,"y":40460},{"x":23760,"y":42460},{"x":24260,"y":44460},{"x":20460,"y":36460},{"x":20960,"y":38460},{"x":21460,"y":40460},{"x":20560,"y":24460},{"x":21060,"y":26460},{"x":21560,"y":28460},{"x":22060,"y":30460},{"x":22560,"y":31460},{"x":23060,"y":33460},{"x":23560,"y":35460},{"x":24060,"y":32460},{"x":24560,"y":38460},{"x":25060,"y":40460},{"x":20860,"y":19860},{"x":21860,"y":22460},{"x":22860,"y":24460},{"x":23860,"y":26460},{"x":24860,"y":28460},{"x":25460,"y":32460},{"x":25960,"y":36460},{"x":26460,"y":38460},{"x":26960,"y":39460},{"x":27460,"y":41460},{"x":27960,"y":43460},{"x":28460,"y":45460},{"x":26460,"y":26460},{"x":27460,"y":28460},{"x":28460,"y":30460},{"x":29460,"y":32460},{"x":27960,"y":35460},{"x":28960,"y":36460},{"x":29460,"y":42460},{"x":29960,"y":44460},{"x":25460,"y":27460},{"x":24460,"y":22460},{"x":23460,"y":20460},{"x":22460,"y":17460},{"x":19460,"y":19460},{"x":18460,"y":17460},{"x":17460,"y":19460},{"x":16560,"y":16860},
{"x":3200,"y":1200},{"x":3800,"y":2400},{"x":4400,"y":3600},{"x":5000,"y":2800},{"x":5600,"y":4600},{"x":6200,"y":3800},{"x":6800,"y":5600},{"x":7400,"y":4800},{"x":8000,"y":6600},{"x":8600,"y":5800},{"x":9200,"y":7600},{"x":9800,"y":6800},{"x":4700,"y":1400},{"x":5900,"y":2100},{"x":7100,"y":2900},{"x":8300,"y":3900},{"x":9500,"y":4900},{"x":6500,"y":7300},{"x":7700,"y":8700},{"x":8900,"y":10300},{"x":9900,"y":9400},{"x":7200,"y":9900},{"x":5300,"y":6100},{"x":6100,"y":1100},{"x":6900,"y":1000},{"x":7600,"y":1300},
{"x":10400,"y":8600},{"x":11000,"y":7300},{"x":11600,"y":9600},{"x":12200,"y":8400},{"x":12800,"y":10800},{"x":13400,"y":9700},{"x":14000,"y":12300},{"x":14600,"y":11200},{"x":15200,"y":13600},{"x":15800,"y":12500},{"x":16400,"y":15100},{"x":17000,"y":14000},{"x":17600,"y":16500},{"x":18200,"y":15300},{"x":18800,"y":18000},{"x":19400,"y":16800},{"x":10800,"y":12600},{"x":12000,"y":14600},{"x":13200,"y":16100},{"x":14400,"y":17600},{"x":15600,"y":19300},{"x":16800,"y":20700},{"x":18000,"y":22300},{"x":19200,"y":23900},{"x":11400,"y":5600},{"x":13000,"y":7100},{"x":14800,"y":8800},{"x":16200,"y":10900},{"x":17800,"y":12600},{"x":19600,"y":14200},{"x":12600,"y":19300},{"x":14100,"y":20200},{"x":15400,"y":16900},{"x":17200,"y":18900},{"x":18600,"y":20400},{"x":19900,"y":21300},{"x":16000,"y":22300},{"x":17400,"y":23600},{"x":13800,"y":13800},{"x":11800,"y":11900},
{"x":20500,"y":15900},{"x":21300,"y":17400},{"x":22100,"y":16200},{"x":22900,"y":19300},{"x":23700,"y":18100},{"x":24500,"y":21000},{"x":25300,"y":19800},{"x":26100,"y":22700},{"x":26900,"y":21300},{"x":27700,"y":24500},{"x":28500,"y":23200},{"x":29300,"y":26400},{"x":30100,"y":25100},{"x":30900,"y":28200},{"x":31700,"y":27000},{"x":32500,"y":30100},{"x":33300,"y":28800},{"x":34100,"y":31900},{"x":20800,"y":22600},{"x":21900,"y":24200},{"x":23100,"y":25900},{"x":24200,"y":27300},{"x":25400,"y":28900},{"x":26600,"y":30600},{"x":27800,"y":32100},{"x":29000,"y":33800},{"x":30200,"y":35200},{"x":31400,"y":36900},{"x":32600,"y":38400},{"x":33800,"y":40100},{"x":21500,"y":13200},{"x":23300,"y":14900},{"x":25100,"y":16700},{"x":26900,"y":18600},{"x":28700,"y":20400},{"x":30500,"y":22300},{"x":32300,"y":24200},{"x":24000,"y":30500},{"x":26300,"y":33500},{"x":28600,"y":36400},{"x":31000,"y":39700},{"x":33200,"y":42600},{"x":27400,"y":27100},{"x":29700,"y":29800},{"x":31800,"y":32600},{"x":34600,"y":35200},{"x":35600,"y":33300},{"x":36400,"y":37600},{"x":35200,"y":39800},{"x":36800,"y":29300}],
"tlFit":[{"x":10000,"y":45600},{"x":50000,"y":79600}],
"trFit":[{"x":0,"y":15900},{"x":30000,"y":115200}],
"blFit":[{"x":10000,"y":9400},{"x":90000,"y":108400}],
"brFit":[{"x":-3000,"y":-2300},{"x":82500,"y":97900}]
},
"vconcat":[
{"title":{"text":"(a)\u2002England 2011","orient":"bottom","anchor":"middle","font":"DejaVu Serif","fontSize":20,"fontWeight":"normal","color":"black","offset":20},
"spacing":4,
"hconcat":[
{"width":351,"height":306,
"encoding":{
"x":{"field":"x","type":"quantitative","scale":{"domain":[10000,50000],"range":[92.3,312.3],"nice":false,"zero":false},"axis":{"title":"Income per Capita Predictions","values":[10000,20000,30000,40000,50000],"offset":-61,"titlePadding":19}},
"y":{"field":"y","type":"quantitative","scale":{"domain":[30000,110000],"range":[245,23.3],"nice":false,"zero":false},"axis":{"title":"Income per Capita","values":[30000,40000,50000,60000,70000,80000,90000,100000,110000],"offset":-92.3,"titlePadding":20}}},
"layer":[
{"data":{"name":"tl"},"mark":{"type":"square","size":5,"color":"black","opacity":1}},
{"data":{"name":"tlFit"},"mark":{"type":"line","color":"#ff0000","strokeWidth":1.3}}
]},
{"width":358,"height":306,
"encoding":{
"x":{"field":"x","type":"quantitative","scale":{"domain":[0,30000],"range":[92.7,319.3],"nice":false,"zero":false},"axis":{"title":"Population Predictions","values":[0,10000,20000,30000],"offset":-62.3,"titlePadding":20}},
"y":{"field":"y","type":"quantitative","scale":{"domain":[0,120000],"range":[243.7,17],"nice":false,"zero":false},"axis":{"title":"Population","values":[0,20000,40000,60000,80000,100000,120000],"offset":-92.7,"titlePadding":18}}},
"layer":[
{"data":{"name":"tr"},"mark":{"type":"square","size":5,"color":"black","opacity":1}},
{"data":{"name":"trFit"},"mark":{"type":"line","color":"#ff0000","strokeWidth":1.3}}
]}
]},
{"title":{"text":"(b)\u2002California 2010","orient":"bottom","anchor":"middle","font":"DejaVu Serif","fontSize":20,"fontWeight":"normal","color":"black","offset":14},
"spacing":24,
"hconcat":[
{"width":348,"height":311,
"encoding":{
"x":{"field":"x","type":"quantitative","scale":{"domain":[10000,90000],"range":[85,319],"nice":false,"zero":false},"axis":{"title":"Income per Capita Predictions","values":[10000,30000,50000,70000,90000],"offset":-62.7,"titlePadding":20,"labelPadding":4}},
"y":{"field":"y","type":"quantitative","scale":{"domain":[0,160000],"range":[248.3,15.7],"nice":false,"zero":false},"axis":{"title":"Income per Capita","values":[0,20000,40000,60000,80000,100000,120000,140000,160000],"offset":-85,"titlePadding":15}}},
"layer":[
{"data":{"name":"bl"},"mark":{"type":"square","size":8,"color":"black","opacity":1}},
{"data":{"name":"blFit"},"mark":{"type":"line","color":"#ff0000","strokeWidth":1.3}}
]},
{"width":341,"height":311,
"encoding":{
"x":{"field":"x","type":"quantitative","scale":{"domain":[-7750,90000],"range":[92.3,331.7],"nice":false,"zero":false},"axis":{"title":"Population Predictions","values":[0,20000,40000,60000,80000],"offset":-63.7,"titlePadding":23}},
"y":{"field":"y","type":"quantitative","scale":{"domain":[-2325,97800],"range":[247.3,3.3],"nice":false,"zero":false},"axis":{"title":"Population","values":[0,20000,40000,60000,80000],"offset":-92.3,"titlePadding":15}}},
"layer":[
{"data":{"name":"br"},"mark":{"type":"circle","size":11,"color":"black","opacity":1}},
{"data":{"name":"brFit"},"mark":{"type":"line","color":"#ff0000","strokeWidth":1.3}}
]}
]}
]
}
